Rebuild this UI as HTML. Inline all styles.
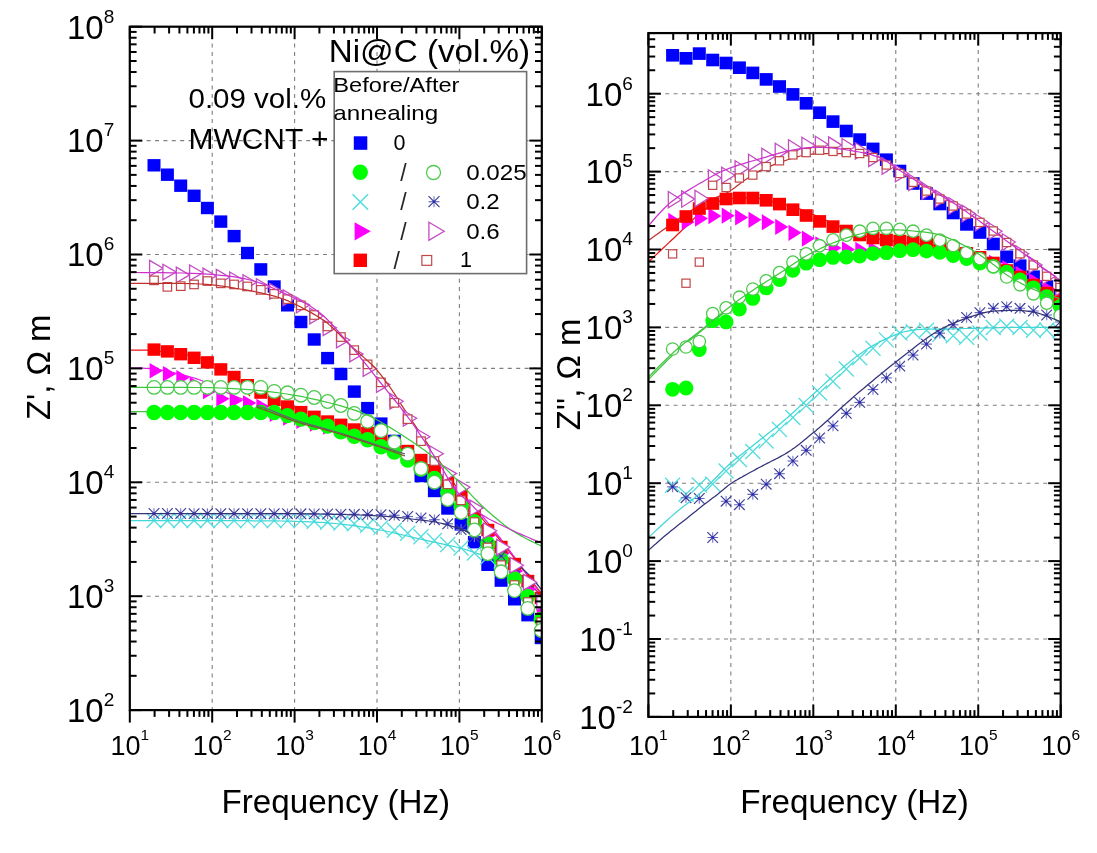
<!DOCTYPE html>
<html><head><meta charset="utf-8"><style>
html,body{margin:0;padding:0;background:#fff;overflow:hidden}
svg{display:block;will-change:transform}
</style></head><body>
<svg width="1097" height="853" viewBox="0 0 1097 853">
<rect width="1097" height="853" fill="#fff"/>
<g stroke="#7f7f7f" stroke-width="1.1" stroke-dasharray="4 4.4" fill="none"><line x1="212.2" y1="26.7" x2="212.2" y2="710.1"/><line x1="294.6" y1="26.7" x2="294.6" y2="710.1"/><line x1="377" y1="26.7" x2="377" y2="710.1"/><line x1="459.4" y1="26.7" x2="459.4" y2="710.1"/><line x1="129.8" y1="596.2" x2="541.8" y2="596.2"/><line x1="129.8" y1="482.3" x2="541.8" y2="482.3"/><line x1="129.8" y1="368.4" x2="541.8" y2="368.4"/><line x1="129.8" y1="254.5" x2="541.8" y2="254.5"/><line x1="129.8" y1="140.6" x2="541.8" y2="140.6"/></g>
<g stroke="#7f7f7f" stroke-width="1.1" stroke-dasharray="4 4.4" fill="none"><line x1="730.86" y1="33.08" x2="730.86" y2="716.9"/><line x1="813.32" y1="33.08" x2="813.32" y2="716.9"/><line x1="895.78" y1="33.08" x2="895.78" y2="716.9"/><line x1="978.24" y1="33.08" x2="978.24" y2="716.9"/><line x1="648.4" y1="639" x2="1060.7" y2="639"/><line x1="648.4" y1="561.1" x2="1060.7" y2="561.1"/><line x1="648.4" y1="483.2" x2="1060.7" y2="483.2"/><line x1="648.4" y1="405.3" x2="1060.7" y2="405.3"/><line x1="648.4" y1="327.4" x2="1060.7" y2="327.4"/><line x1="648.4" y1="249.5" x2="1060.7" y2="249.5"/><line x1="648.4" y1="171.6" x2="1060.7" y2="171.6"/><line x1="648.4" y1="93.7" x2="1060.7" y2="93.7"/></g>
<g>
<clipPath id="clipL"><rect x="129.8" y="26.7" width="411.99999999999994" height="683.4000000000001"/></clipPath>
<g clip-path="url(#clipL)">
<rect x="147.5" y="159.1" width="13" height="12.4" fill="#0000ff"/><rect x="160.9" y="168.5" width="13" height="12.4" fill="#0000ff"/><rect x="174.2" y="179.5" width="13" height="12.4" fill="#0000ff"/><rect x="187.6" y="189.6" width="13" height="12.4" fill="#0000ff"/><rect x="200.9" y="201.8" width="13" height="12.4" fill="#0000ff"/><rect x="214.3" y="215.4" width="13" height="12.4" fill="#0000ff"/><rect x="227.6" y="229.9" width="13" height="12.4" fill="#0000ff"/><rect x="241" y="246.8" width="13" height="12.4" fill="#0000ff"/><rect x="254.3" y="263.2" width="13" height="12.4" fill="#0000ff"/><rect x="267.7" y="280.3" width="13" height="12.4" fill="#0000ff"/><rect x="281" y="299.1" width="13" height="12.4" fill="#0000ff"/><rect x="294.4" y="315.8" width="13" height="12.4" fill="#0000ff"/><rect x="307.7" y="333.3" width="13" height="12.4" fill="#0000ff"/><rect x="321.1" y="351.9" width="13" height="12.4" fill="#0000ff"/><rect x="334.4" y="367.8" width="13" height="12.4" fill="#0000ff"/><rect x="347.8" y="385.4" width="13" height="12.4" fill="#0000ff"/><rect x="361.1" y="401.9" width="13" height="12.4" fill="#0000ff"/><rect x="374.5" y="417.4" width="13" height="12.4" fill="#0000ff"/><rect x="387.8" y="434.7" width="13" height="12.4" fill="#0000ff"/><rect x="401.2" y="450.3" width="13" height="12.4" fill="#0000ff"/><rect x="414.5" y="469.8" width="13" height="12.4" fill="#0000ff"/><rect x="427.9" y="484.8" width="13" height="12.4" fill="#0000ff"/><rect x="441.2" y="502.3" width="13" height="12.4" fill="#0000ff"/><rect x="454.6" y="518.2" width="13" height="12.4" fill="#0000ff"/><rect x="467.9" y="536" width="13" height="12.4" fill="#0000ff"/><rect x="481.3" y="558.6" width="13" height="12.4" fill="#0000ff"/><rect x="494.6" y="574.4" width="13" height="12.4" fill="#0000ff"/><rect x="508" y="593.1" width="13" height="12.4" fill="#0000ff"/><rect x="521.3" y="609" width="13" height="12.4" fill="#0000ff"/><rect x="534.7" y="631.8" width="13" height="12.4" fill="#0000ff"/>
<path d="M146.5 513L161.5 528M146.5 528L161.5 513" stroke="#55dddd" stroke-width="1.3" fill="none"/><path d="M159.9 513L174.9 528M159.9 528L174.9 513" stroke="#55dddd" stroke-width="1.3" fill="none"/><path d="M173.2 513L188.2 528M173.2 528L188.2 513" stroke="#55dddd" stroke-width="1.3" fill="none"/><path d="M186.6 513L201.6 528M186.6 528L201.6 513" stroke="#55dddd" stroke-width="1.3" fill="none"/><path d="M199.9 513L214.9 528M199.9 528L214.9 513" stroke="#55dddd" stroke-width="1.3" fill="none"/><path d="M213.3 513L228.3 528M213.3 528L228.3 513" stroke="#55dddd" stroke-width="1.3" fill="none"/><path d="M226.6 513.1L241.6 528.1M226.6 528.1L241.6 513.1" stroke="#55dddd" stroke-width="1.3" fill="none"/><path d="M240 513.1L255 528.1M240 528.1L255 513.1" stroke="#55dddd" stroke-width="1.3" fill="none"/><path d="M253.3 513.1L268.3 528.1M253.3 528.1L268.3 513.1" stroke="#55dddd" stroke-width="1.3" fill="none"/><path d="M266.7 513.1L281.7 528.1M266.7 528.1L281.7 513.1" stroke="#55dddd" stroke-width="1.3" fill="none"/><path d="M280 513.1L295 528.1M280 528.1L295 513.1" stroke="#55dddd" stroke-width="1.3" fill="none"/><path d="M293.4 513.1L308.4 528.1M293.4 528.1L308.4 513.1" stroke="#55dddd" stroke-width="1.3" fill="none"/><path d="M306.7 513.8L321.7 528.8M306.7 528.8L321.7 513.8" stroke="#55dddd" stroke-width="1.3" fill="none"/><path d="M320.1 514.7L335.1 529.7M320.1 529.7L335.1 514.7" stroke="#55dddd" stroke-width="1.3" fill="none"/><path d="M333.4 515.5L348.4 530.5M333.4 530.5L348.4 515.5" stroke="#55dddd" stroke-width="1.3" fill="none"/><path d="M346.8 516.3L361.8 531.3M346.8 531.3L361.8 516.3" stroke="#55dddd" stroke-width="1.3" fill="none"/><path d="M360.1 517.7L375.1 532.7M360.1 532.7L375.1 517.7" stroke="#55dddd" stroke-width="1.3" fill="none"/><path d="M373.5 519.9L388.5 534.9M373.5 534.9L388.5 519.9" stroke="#55dddd" stroke-width="1.3" fill="none"/><path d="M386.8 522.8L401.8 537.8M386.8 537.8L401.8 522.8" stroke="#55dddd" stroke-width="1.3" fill="none"/><path d="M400.2 525.7L415.2 540.7M400.2 540.7L415.2 525.7" stroke="#55dddd" stroke-width="1.3" fill="none"/><path d="M413.5 529.3L428.5 544.3M413.5 544.3L428.5 529.3" stroke="#55dddd" stroke-width="1.3" fill="none"/><path d="M426.9 533L441.9 548M426.9 548L441.9 533" stroke="#55dddd" stroke-width="1.3" fill="none"/><path d="M440.2 537L455.2 552M440.2 552L455.2 537" stroke="#55dddd" stroke-width="1.3" fill="none"/><path d="M453.6 540.5L468.6 555.5M453.6 555.5L468.6 540.5" stroke="#55dddd" stroke-width="1.3" fill="none"/><path d="M466.9 545.5L481.9 560.5M466.9 560.5L481.9 545.5" stroke="#55dddd" stroke-width="1.3" fill="none"/><path d="M480.3 549.5L495.3 564.5M480.3 564.5L495.3 549.5" stroke="#55dddd" stroke-width="1.3" fill="none"/><path d="M493.6 553.5L508.6 568.5M493.6 568.5L508.6 553.5" stroke="#55dddd" stroke-width="1.3" fill="none"/>
<path d="M130 368 L131.4 368 L133.1 368 L135.3 368 L137.6 368 L140.2 368.1 L142.8 368.2 L145.4 368.3 L148 368.5 L150.5 368.8 L153 369.1 L155.6 369.4 L158.2 369.8 L161 370.2 L163.8 370.7 L166.8 371.3 L170 372 L173.4 372.7 L176.9 373.5 L180.7 374.4 L184.5 375.3 L188.4 376.4 L192.3 377.5 L196.2 378.7 L200 380 L203.8 381.5 L207.7 383.2 L211.7 385.1 L215.6 387 L219.5 388.9 L223.2 390.8 L226.7 392.5 L230 394 L233.1 395.3 L236.2 396.6 L239.1 397.8 L241.9 398.9 L244.4 399.8 L246.6 400.7 L248.5 401.4 L250 402" stroke="#e020e0" stroke-width="1.25" fill="none" stroke-linejoin="round"/>
<path d="M130 350 L131.3 350 L132.9 350 L134.9 350 L137.1 350 L139.4 350 L141.9 350 L144.5 350.1 L147 350.2 L149.5 350.4 L152.2 350.6 L154.9 350.8 L157.7 351 L160.6 351.3 L163.6 351.7 L166.7 352 L170 352.5 L173.4 353 L177 353.4 L180.7 353.9 L184.6 354.4 L188.4 355 L192.3 355.8 L196.2 356.8 L200 358 L203.8 359.5 L207.7 361.1 L211.7 363 L215.6 365 L219.5 367.1 L223.2 369.3 L226.7 371.6 L230 374 L233.1 376.6 L236.2 379.6 L239.1 382.8 L241.9 386 L244.4 389.1 L246.6 391.9 L248.5 394.3 L250 396" stroke="#ee1111" stroke-width="1.25" fill="none" stroke-linejoin="round"/>
<path d="M130 411.5 L135.5 411.5 L142.8 411.6 L151.6 411.6 L161.2 411.6 L171.4 411.7 L181.6 411.8 L191.2 411.9 L200 412 L208.1 412.2 L216.2 412.3 L224.1 412.5 L231.9 412.7 L239.4 413 L246.6 413.3 L253.5 413.6 L260 414 L266 414.5 L271.4 414.9 L276.5 415.5 L281.2 416.1 L285.9 416.7 L290.5 417.4 L295.1 418.2 L300 419 L305 419.9 L310 420.9 L315 421.9 L320 422.9 L325 424.1 L330 425.3 L335 426.6 L340 428 L345 429.5 L350 431 L355 432.6 L360 434.3 L365 436.1 L370 438 L375 439.9 L380 442 L385.1 444.3 L390.5 446.7 L395.9 449.3 L401.2 452 L406.5 454.7 L411.4 457.3 L416 459.7 L420 462 L423.6 464.1 L426.9 466.2 L429.8 468.3 L432.5 470.2 L434.8 472 L436.9 473.6 L438.6 475 L440 476" stroke="#3ec63e" stroke-width="1.25" fill="none" stroke-linejoin="round"/>
<path d="M392 390 L393.3 392.1 L395 394.7 L396.9 397.7 L399.1 401.2 L401.6 405.1 L404.2 409.2 L407.1 413.5 L410 418 L413.2 422.7 L416.7 427.8 L420.4 433.2 L424.2 438.9 L428.2 444.7 L432.2 450.5 L436.2 456.3 L440 462 L443.8 467.7 L447.5 473.4 L451.2 479.1 L455 484.9 L458.8 490.7 L462.5 496.5 L466.2 502.3 L470 508 L473.7 513.7 L477.2 519.4 L480.7 525 L484.3 530.7 L487.9 536.3 L491.7 541.9 L495.7 547.5 L500 553 L504.9 558.8 L510.6 564.9 L516.6 571.2 L522.8 577.3 L528.7 583.1 L534 588.3 L538.5 592.7 L541.8 596" stroke="#c0302a" stroke-width="1.25" fill="none" stroke-linejoin="round"/>
<path d="M390 452 L392.2 453 L395.2 454.2 L398.6 455.6 L402.5 457.2 L406.7 459 L411.1 461.1 L415.6 463.4 L420 466 L424.5 468.8 L429.3 471.8 L434.3 475.1 L439.4 478.6 L444.6 482.3 L449.8 486.3 L454.9 490.5 L460 495 L465 499.8 L470 504.9 L474.9 510.3 L479.9 515.9 L484.9 521.8 L489.9 527.7 L494.9 533.8 L500 540 L505.4 546.7 L511.3 554.1 L517.4 562 L523.4 569.8 L529.1 577.3 L534.2 584.1 L538.6 589.8 L541.8 594" stroke="#ee1111" stroke-width="1.25" fill="none" stroke-linejoin="round"/>
<path d="M390 450 L392.2 451 L395.2 452.2 L398.6 453.6 L402.5 455.2 L406.7 457.1 L411.1 459.2 L415.6 461.5 L420 464 L424.5 466.7 L429.3 469.6 L434.3 472.7 L439.4 476 L444.6 479.6 L449.8 483.4 L454.9 487.5 L460 492 L465 496.8 L470 502 L474.9 507.4 L479.9 513.2 L484.9 519.1 L489.9 525.3 L494.9 531.6 L500 538 L505.4 545 L511.3 552.9 L517.4 561.2 L523.4 569.6 L529.1 577.6 L534.2 584.9 L538.6 591 L541.8 595.5" stroke="#e020e0" stroke-width="1.25" fill="none" stroke-linejoin="round"/>
<path d="M130 520.5 L135.5 520.5 L142.8 520.5 L151.6 520.5 L161.2 520.5 L171.4 520.6 L181.6 520.6 L191.2 520.6 L200 520.6 L208.1 520.6 L216.2 520.6 L224.1 520.6 L231.9 520.7 L239.4 520.7 L246.6 520.7 L253.5 520.8 L260 520.8 L266 520.9 L271.4 520.9 L276.5 520.9 L281.2 521 L285.9 521.1 L290.5 521.2 L295.1 521.3 L300 521.5 L305 521.7 L310 521.9 L315 522.2 L320 522.4 L325 522.7 L330 523.1 L335 523.5 L340 524 L345 524.6 L350 525.2 L355 525.9 L360 526.6 L365 527.4 L370 528.2 L375 529.1 L380 530 L385 531 L390 532 L395 533.2 L400 534.3 L405 535.5 L410 536.7 L415 537.9 L420 539 L425.1 540.1 L430.4 541.3 L435.8 542.5 L441.1 543.6 L446.3 544.8 L451.3 545.9 L455.9 547 L460 548 L463.6 549 L466.7 549.9 L469.5 550.8 L472.1 551.6 L474.5 552.5 L476.9 553.3 L479.3 554.1 L482 555 L485 555.9 L488.2 556.9 L491.6 557.9 L494.9 558.9 L498 559.9 L500.8 560.7 L503.2 561.5 L505 562" stroke="#3fd7d7" stroke-width="1.25" fill="none" stroke-linejoin="round"/>
<path d="M460 528.2 L460.8 528.6 L461.8 529.1 L463 529.8 L464.4 530.5 L465.8 531.2 L467.3 532 L468.7 532.8 L470 533.5 L471.2 534.2 L472.3 534.8 L473.4 535.3 L474.5 535.9 L475.7 536.6 L477 537.4 L478.5 538.2 L480.2 539.3 L482.2 540.5 L484.3 541.8 L486.7 543.3 L489.1 544.8 L491.7 546.4 L494.4 548.2 L497.2 550 L500 552 L503 554.1 L506.2 556.4 L509.6 558.9 L513.1 561.4 L516.5 564 L519.8 566.6 L522.9 569.2 L525.7 571.6 L528.3 574.1 L530.8 576.7 L533.1 579.4 L535.4 582 L537.4 584.5 L539.1 586.7 L540.6 588.6 L541.8 590" stroke="#33337a" stroke-width="1.25" fill="none" stroke-linejoin="round"/>
<path d="M149.6 362.9L162.9 370.7L149.6 378.5Z" fill="#ff00ff"/><path d="M162.9 366.1L176.2 373.9L162.9 381.7Z" fill="#ff00ff"/><path d="M176.3 369.9L189.6 377.7L176.3 385.5Z" fill="#ff00ff"/><path d="M189.6 376.7L202.9 384.5L189.6 392.3Z" fill="#ff00ff"/><path d="M203 383.7L216.3 391.5L203 399.3Z" fill="#ff00ff"/><path d="M216.3 390.9L229.6 398.7L216.3 406.5Z" fill="#ff00ff"/><path d="M229.7 392.7L243 400.5L229.7 408.3Z" fill="#ff00ff"/><path d="M243 395.2L256.3 403L243 410.8Z" fill="#ff00ff"/><path d="M256.4 398.7L269.7 406.5L256.4 414.3Z" fill="#ff00ff"/><path d="M269.7 406.5L283 414.3L269.7 422.1Z" fill="#ff00ff"/><path d="M283.1 410.2L296.4 418L283.1 425.8Z" fill="#ff00ff"/><path d="M296.4 413.4L309.7 421.2L296.4 429Z" fill="#ff00ff"/><path d="M309.8 416.2L323.1 424L309.8 431.8Z" fill="#ff00ff"/><path d="M323.1 419.2L336.4 427L323.1 434.8Z" fill="#ff00ff"/><path d="M336.5 422.2L349.8 430L336.5 437.8Z" fill="#ff00ff"/><path d="M349.8 426.2L363.1 434L349.8 441.8Z" fill="#ff00ff"/><path d="M363.2 430.2L376.5 438L363.2 445.8Z" fill="#ff00ff"/><path d="M376.5 435.2L389.8 443L376.5 450.8Z" fill="#ff00ff"/><path d="M389.9 441.2L403.2 449L389.9 456.8Z" fill="#ff00ff"/><path d="M403.3 448.2L416.6 456L403.3 463.8Z" fill="#ff00ff"/><path d="M416.6 457.2L429.9 465L416.6 472.8Z" fill="#ff00ff"/><path d="M430 467.2L443.3 475L430 482.8Z" fill="#ff00ff"/><path d="M443.3 480.2L456.6 488L443.3 495.8Z" fill="#ff00ff"/><path d="M456.7 494.2L470 502L456.7 509.8Z" fill="#ff00ff"/><path d="M470 510.2L483.3 518L470 525.8Z" fill="#ff00ff"/><path d="M483.4 527.2L496.7 535L483.4 542.8Z" fill="#ff00ff"/><path d="M496.7 545.2L510 553L496.7 560.8Z" fill="#ff00ff"/><path d="M510.1 563.2L523.4 571L510.1 578.8Z" fill="#ff00ff"/><path d="M523.4 581.2L536.7 589L523.4 596.8Z" fill="#ff00ff"/><path d="M536.8 599.2L550.1 607L536.8 614.8Z" fill="#ff00ff"/>
<rect x="147.5" y="343.4" width="13" height="12.4" fill="#ff0000"/><rect x="160.9" y="345.2" width="13" height="12.4" fill="#ff0000"/><rect x="174.2" y="348" width="13" height="12.4" fill="#ff0000"/><rect x="187.6" y="351.6" width="13" height="12.4" fill="#ff0000"/><rect x="200.9" y="356.2" width="13" height="12.4" fill="#ff0000"/><rect x="214.3" y="363.2" width="13" height="12.4" fill="#ff0000"/><rect x="227.6" y="370.8" width="13" height="12.4" fill="#ff0000"/><rect x="241" y="379" width="13" height="12.4" fill="#ff0000"/><rect x="254.3" y="386.4" width="13" height="12.4" fill="#ff0000"/><rect x="267.7" y="393.8" width="13" height="12.4" fill="#ff0000"/><rect x="281" y="400.3" width="13" height="12.4" fill="#ff0000"/><rect x="294.4" y="405.9" width="13" height="12.4" fill="#ff0000"/><rect x="307.7" y="410.6" width="13" height="12.4" fill="#ff0000"/><rect x="321.1" y="415.3" width="13" height="12.4" fill="#ff0000"/><rect x="334.4" y="418.6" width="13" height="12.4" fill="#ff0000"/><rect x="347.8" y="423.3" width="13" height="12.4" fill="#ff0000"/><rect x="361.1" y="426.8" width="13" height="12.4" fill="#ff0000"/><rect x="374.5" y="431.8" width="13" height="12.4" fill="#ff0000"/><rect x="387.8" y="437.8" width="13" height="12.4" fill="#ff0000"/><rect x="401.2" y="444.8" width="13" height="12.4" fill="#ff0000"/><rect x="414.5" y="453.8" width="13" height="12.4" fill="#ff0000"/><rect x="427.9" y="464.1" width="13" height="12.4" fill="#ff0000"/><rect x="441.2" y="475.8" width="13" height="12.4" fill="#ff0000"/><rect x="454.6" y="488.8" width="13" height="12.4" fill="#ff0000"/><rect x="467.9" y="505.8" width="13" height="12.4" fill="#ff0000"/><rect x="481.3" y="523.8" width="13" height="12.4" fill="#ff0000"/><rect x="494.6" y="540.8" width="13" height="12.4" fill="#ff0000"/><rect x="508" y="557.8" width="13" height="12.4" fill="#ff0000"/><rect x="521.3" y="574.8" width="13" height="12.4" fill="#ff0000"/><rect x="534.7" y="591.8" width="13" height="12.4" fill="#ff0000"/>
<circle cx="154" cy="412.5" r="7.7" fill="#00ff00"/><circle cx="167.4" cy="412.5" r="7.7" fill="#00ff00"/><circle cx="180.7" cy="412.5" r="7.7" fill="#00ff00"/><circle cx="194.1" cy="412.5" r="7.7" fill="#00ff00"/><circle cx="207.4" cy="412.5" r="7.7" fill="#00ff00"/><circle cx="220.8" cy="412.5" r="7.7" fill="#00ff00"/><circle cx="234.1" cy="412.5" r="7.7" fill="#00ff00"/><circle cx="247.5" cy="412.5" r="7.7" fill="#00ff00"/><circle cx="260.8" cy="412.5" r="7.7" fill="#00ff00"/><circle cx="274.2" cy="412.5" r="7.7" fill="#00ff00"/><circle cx="287.5" cy="415.6" r="7.7" fill="#00ff00"/><circle cx="300.9" cy="419.1" r="7.7" fill="#00ff00"/><circle cx="314.2" cy="422.6" r="7.7" fill="#00ff00"/><circle cx="327.6" cy="426.1" r="7.7" fill="#00ff00"/><circle cx="340.9" cy="431.9" r="7.7" fill="#00ff00"/><circle cx="354.3" cy="436.3" r="7.7" fill="#00ff00"/><circle cx="367.6" cy="439.8" r="7.7" fill="#00ff00"/><circle cx="381" cy="446.8" r="7.7" fill="#00ff00"/><circle cx="394.3" cy="452.1" r="7.7" fill="#00ff00"/><circle cx="407.7" cy="460" r="7.7" fill="#00ff00"/><circle cx="421" cy="469" r="7.7" fill="#00ff00"/><circle cx="434.4" cy="478.5" r="7.7" fill="#00ff00"/><circle cx="447.7" cy="492.5" r="7.7" fill="#00ff00"/><circle cx="461.1" cy="506.6" r="7.7" fill="#00ff00"/><circle cx="474.4" cy="521.8" r="7.7" fill="#00ff00"/><circle cx="487.8" cy="544" r="7.7" fill="#00ff00"/><circle cx="501.1" cy="559.8" r="7.7" fill="#00ff00"/><circle cx="514.5" cy="579" r="7.7" fill="#00ff00"/><circle cx="527.8" cy="596.5" r="7.7" fill="#00ff00"/><circle cx="541.2" cy="619.4" r="7.7" fill="#00ff00"/>
<path d="M148.7 513.5L159.3 513.5" stroke="#6464bc" stroke-width="1.14" fill="none"/><path d="M154 508.2L154 518.8" stroke="#7a7ac8" stroke-width="1.14" fill="none"/><path d="M148.7 508.2L159.3 518.8M148.7 518.8L159.3 508.2" stroke="#3e3e9c" stroke-width="1.2" fill="none"/><circle cx="154" cy="513.5" r="1.3" fill="#2a2ab8"/><path d="M162.1 513.5L172.7 513.5" stroke="#6464bc" stroke-width="1.14" fill="none"/><path d="M167.4 508.2L167.4 518.8" stroke="#7a7ac8" stroke-width="1.14" fill="none"/><path d="M162.1 508.2L172.7 518.8M162.1 518.8L172.7 508.2" stroke="#3e3e9c" stroke-width="1.2" fill="none"/><circle cx="167.4" cy="513.5" r="1.3" fill="#2a2ab8"/><path d="M175.4 513.5L186 513.5" stroke="#6464bc" stroke-width="1.14" fill="none"/><path d="M180.7 508.2L180.7 518.8" stroke="#7a7ac8" stroke-width="1.14" fill="none"/><path d="M175.4 508.2L186 518.8M175.4 518.8L186 508.2" stroke="#3e3e9c" stroke-width="1.2" fill="none"/><circle cx="180.7" cy="513.5" r="1.3" fill="#2a2ab8"/><path d="M188.8 513.6L199.4 513.6" stroke="#6464bc" stroke-width="1.14" fill="none"/><path d="M194.1 508.3L194.1 518.9" stroke="#7a7ac8" stroke-width="1.14" fill="none"/><path d="M188.8 508.3L199.4 518.9M188.8 518.9L199.4 508.3" stroke="#3e3e9c" stroke-width="1.2" fill="none"/><circle cx="194.1" cy="513.6" r="1.3" fill="#2a2ab8"/><path d="M202.1 513.6L212.7 513.6" stroke="#6464bc" stroke-width="1.14" fill="none"/><path d="M207.4 508.3L207.4 518.9" stroke="#7a7ac8" stroke-width="1.14" fill="none"/><path d="M202.1 508.3L212.7 518.9M202.1 518.9L212.7 508.3" stroke="#3e3e9c" stroke-width="1.2" fill="none"/><circle cx="207.4" cy="513.6" r="1.3" fill="#2a2ab8"/><path d="M215.5 513.6L226.1 513.6" stroke="#6464bc" stroke-width="1.14" fill="none"/><path d="M220.8 508.3L220.8 518.9" stroke="#7a7ac8" stroke-width="1.14" fill="none"/><path d="M215.5 508.3L226.1 518.9M215.5 518.9L226.1 508.3" stroke="#3e3e9c" stroke-width="1.2" fill="none"/><circle cx="220.8" cy="513.6" r="1.3" fill="#2a2ab8"/><path d="M228.8 513.6L239.4 513.6" stroke="#6464bc" stroke-width="1.14" fill="none"/><path d="M234.1 508.3L234.1 518.9" stroke="#7a7ac8" stroke-width="1.14" fill="none"/><path d="M228.8 508.3L239.4 518.9M228.8 518.9L239.4 508.3" stroke="#3e3e9c" stroke-width="1.2" fill="none"/><circle cx="234.1" cy="513.6" r="1.3" fill="#2a2ab8"/><path d="M242.2 513.6L252.8 513.6" stroke="#6464bc" stroke-width="1.14" fill="none"/><path d="M247.5 508.3L247.5 518.9" stroke="#7a7ac8" stroke-width="1.14" fill="none"/><path d="M242.2 508.3L252.8 518.9M242.2 518.9L252.8 508.3" stroke="#3e3e9c" stroke-width="1.2" fill="none"/><circle cx="247.5" cy="513.6" r="1.3" fill="#2a2ab8"/><path d="M255.5 513.7L266.1 513.7" stroke="#6464bc" stroke-width="1.14" fill="none"/><path d="M260.8 508.4L260.8 519" stroke="#7a7ac8" stroke-width="1.14" fill="none"/><path d="M255.5 508.4L266.1 519M255.5 519L266.1 508.4" stroke="#3e3e9c" stroke-width="1.2" fill="none"/><circle cx="260.8" cy="513.7" r="1.3" fill="#2a2ab8"/><path d="M268.9 513.7L279.5 513.7" stroke="#6464bc" stroke-width="1.14" fill="none"/><path d="M274.2 508.4L274.2 519" stroke="#7a7ac8" stroke-width="1.14" fill="none"/><path d="M268.9 508.4L279.5 519M268.9 519L279.5 508.4" stroke="#3e3e9c" stroke-width="1.2" fill="none"/><circle cx="274.2" cy="513.7" r="1.3" fill="#2a2ab8"/><path d="M282.2 513.7L292.8 513.7" stroke="#6464bc" stroke-width="1.14" fill="none"/><path d="M287.5 508.4L287.5 519" stroke="#7a7ac8" stroke-width="1.14" fill="none"/><path d="M282.2 508.4L292.8 519M282.2 519L292.8 508.4" stroke="#3e3e9c" stroke-width="1.2" fill="none"/><circle cx="287.5" cy="513.7" r="1.3" fill="#2a2ab8"/><path d="M295.6 513.8L306.2 513.8" stroke="#6464bc" stroke-width="1.14" fill="none"/><path d="M300.9 508.5L300.9 519.1" stroke="#7a7ac8" stroke-width="1.14" fill="none"/><path d="M295.6 508.5L306.2 519.1M295.6 519.1L306.2 508.5" stroke="#3e3e9c" stroke-width="1.2" fill="none"/><circle cx="300.9" cy="513.8" r="1.3" fill="#2a2ab8"/><path d="M308.9 513.9L319.5 513.9" stroke="#6464bc" stroke-width="1.14" fill="none"/><path d="M314.2 508.6L314.2 519.2" stroke="#7a7ac8" stroke-width="1.14" fill="none"/><path d="M308.9 508.6L319.5 519.2M308.9 519.2L319.5 508.6" stroke="#3e3e9c" stroke-width="1.2" fill="none"/><circle cx="314.2" cy="513.9" r="1.3" fill="#2a2ab8"/><path d="M322.3 514L332.9 514" stroke="#6464bc" stroke-width="1.14" fill="none"/><path d="M327.6 508.7L327.6 519.3" stroke="#7a7ac8" stroke-width="1.14" fill="none"/><path d="M322.3 508.7L332.9 519.3M322.3 519.3L332.9 508.7" stroke="#3e3e9c" stroke-width="1.2" fill="none"/><circle cx="327.6" cy="514" r="1.3" fill="#2a2ab8"/><path d="M335.6 514.2L346.2 514.2" stroke="#6464bc" stroke-width="1.14" fill="none"/><path d="M340.9 508.9L340.9 519.5" stroke="#7a7ac8" stroke-width="1.14" fill="none"/><path d="M335.6 508.9L346.2 519.5M335.6 519.5L346.2 508.9" stroke="#3e3e9c" stroke-width="1.2" fill="none"/><circle cx="340.9" cy="514.2" r="1.3" fill="#2a2ab8"/><path d="M349 514.3L359.6 514.3" stroke="#6464bc" stroke-width="1.14" fill="none"/><path d="M354.3 509L354.3 519.6" stroke="#7a7ac8" stroke-width="1.14" fill="none"/><path d="M349 509L359.6 519.6M349 519.6L359.6 509" stroke="#3e3e9c" stroke-width="1.2" fill="none"/><circle cx="354.3" cy="514.3" r="1.3" fill="#2a2ab8"/><path d="M362.3 514.5L372.9 514.5" stroke="#6464bc" stroke-width="1.14" fill="none"/><path d="M367.6 509.2L367.6 519.8" stroke="#7a7ac8" stroke-width="1.14" fill="none"/><path d="M362.3 509.2L372.9 519.8M362.3 519.8L372.9 509.2" stroke="#3e3e9c" stroke-width="1.2" fill="none"/><circle cx="367.6" cy="514.5" r="1.3" fill="#2a2ab8"/><path d="M375.7 514.7L386.3 514.7" stroke="#6464bc" stroke-width="1.14" fill="none"/><path d="M381 509.4L381 520" stroke="#7a7ac8" stroke-width="1.14" fill="none"/><path d="M375.7 509.4L386.3 520M375.7 520L386.3 509.4" stroke="#3e3e9c" stroke-width="1.2" fill="none"/><circle cx="381" cy="514.7" r="1.3" fill="#2a2ab8"/><path d="M389 515.3L399.6 515.3" stroke="#6464bc" stroke-width="1.14" fill="none"/><path d="M394.3 510L394.3 520.6" stroke="#7a7ac8" stroke-width="1.14" fill="none"/><path d="M389 510L399.6 520.6M389 520.6L399.6 510" stroke="#3e3e9c" stroke-width="1.2" fill="none"/><circle cx="394.3" cy="515.3" r="1.3" fill="#2a2ab8"/><path d="M402.4 516.5L413 516.5" stroke="#6464bc" stroke-width="1.14" fill="none"/><path d="M407.7 511.2L407.7 521.8" stroke="#7a7ac8" stroke-width="1.14" fill="none"/><path d="M402.4 511.2L413 521.8M402.4 521.8L413 511.2" stroke="#3e3e9c" stroke-width="1.2" fill="none"/><circle cx="407.7" cy="516.5" r="1.3" fill="#2a2ab8"/><path d="M415.7 517.9L426.3 517.9" stroke="#6464bc" stroke-width="1.14" fill="none"/><path d="M421 512.6L421 523.2" stroke="#7a7ac8" stroke-width="1.14" fill="none"/><path d="M415.7 512.6L426.3 523.2M415.7 523.2L426.3 512.6" stroke="#3e3e9c" stroke-width="1.2" fill="none"/><circle cx="421" cy="517.9" r="1.3" fill="#2a2ab8"/><path d="M429.1 519.7L439.7 519.7" stroke="#6464bc" stroke-width="1.14" fill="none"/><path d="M434.4 514.4L434.4 525" stroke="#7a7ac8" stroke-width="1.14" fill="none"/><path d="M429.1 514.4L439.7 525M429.1 525L439.7 514.4" stroke="#3e3e9c" stroke-width="1.2" fill="none"/><circle cx="434.4" cy="519.7" r="1.3" fill="#2a2ab8"/><path d="M442.4 523.8L453 523.8" stroke="#6464bc" stroke-width="1.14" fill="none"/><path d="M447.7 518.5L447.7 529.1" stroke="#7a7ac8" stroke-width="1.14" fill="none"/><path d="M442.4 518.5L453 529.1M442.4 529.1L453 518.5" stroke="#3e3e9c" stroke-width="1.2" fill="none"/><circle cx="447.7" cy="523.8" r="1.3" fill="#2a2ab8"/><path d="M455.8 529.6L466.4 529.6" stroke="#6464bc" stroke-width="1.14" fill="none"/><path d="M461.1 524.3L461.1 534.9" stroke="#7a7ac8" stroke-width="1.14" fill="none"/><path d="M455.8 524.3L466.4 534.9M455.8 534.9L466.4 524.3" stroke="#3e3e9c" stroke-width="1.2" fill="none"/><circle cx="461.1" cy="529.6" r="1.3" fill="#2a2ab8"/><path d="M469.1 537L479.7 537" stroke="#6464bc" stroke-width="1.14" fill="none"/><path d="M474.4 531.7L474.4 542.3" stroke="#7a7ac8" stroke-width="1.14" fill="none"/><path d="M469.1 531.7L479.7 542.3M469.1 542.3L479.7 531.7" stroke="#3e3e9c" stroke-width="1.2" fill="none"/><circle cx="474.4" cy="537" r="1.3" fill="#2a2ab8"/><path d="M482.5 545.5L493.1 545.5" stroke="#6464bc" stroke-width="1.14" fill="none"/><path d="M487.8 540.2L487.8 550.8" stroke="#7a7ac8" stroke-width="1.14" fill="none"/><path d="M482.5 540.2L493.1 550.8M482.5 550.8L493.1 540.2" stroke="#3e3e9c" stroke-width="1.2" fill="none"/><circle cx="487.8" cy="545.5" r="1.3" fill="#2a2ab8"/><path d="M495.8 556L506.4 556" stroke="#6464bc" stroke-width="1.14" fill="none"/><path d="M501.1 550.7L501.1 561.3" stroke="#7a7ac8" stroke-width="1.14" fill="none"/><path d="M495.8 550.7L506.4 561.3M495.8 561.3L506.4 550.7" stroke="#3e3e9c" stroke-width="1.2" fill="none"/><circle cx="501.1" cy="556" r="1.3" fill="#2a2ab8"/><path d="M509.2 567L519.8 567" stroke="#6464bc" stroke-width="1.14" fill="none"/><path d="M514.5 561.7L514.5 572.3" stroke="#7a7ac8" stroke-width="1.14" fill="none"/><path d="M509.2 561.7L519.8 572.3M509.2 572.3L519.8 561.7" stroke="#3e3e9c" stroke-width="1.2" fill="none"/><circle cx="514.5" cy="567" r="1.3" fill="#2a2ab8"/><path d="M522.5 582L533.1 582" stroke="#6464bc" stroke-width="1.14" fill="none"/><path d="M527.8 576.7L527.8 587.3" stroke="#7a7ac8" stroke-width="1.14" fill="none"/><path d="M522.5 576.7L533.1 587.3M522.5 587.3L533.1 576.7" stroke="#3e3e9c" stroke-width="1.2" fill="none"/><circle cx="527.8" cy="582" r="1.3" fill="#2a2ab8"/><path d="M535.9 598L546.5 598" stroke="#6464bc" stroke-width="1.14" fill="none"/><path d="M541.2 592.7L541.2 603.3" stroke="#7a7ac8" stroke-width="1.14" fill="none"/><path d="M535.9 592.7L546.5 603.3M535.9 603.3L546.5 592.7" stroke="#3e3e9c" stroke-width="1.2" fill="none"/><circle cx="541.2" cy="598" r="1.3" fill="#2a2ab8"/>
<path d="M149.6 260.4L162.9 268.2L149.6 276Z" fill="#fff" stroke="#c24ec2" stroke-width="1.3" stroke-linejoin="miter"/><path d="M162.9 264.3L176.2 272.1L162.9 279.9Z" fill="#fff" stroke="#c24ec2" stroke-width="1.3" stroke-linejoin="miter"/><path d="M176.3 267.1L189.6 274.9L176.3 282.7Z" fill="#fff" stroke="#c24ec2" stroke-width="1.3" stroke-linejoin="miter"/><path d="M189.6 265L202.9 272.8L189.6 280.6Z" fill="#fff" stroke="#c24ec2" stroke-width="1.3" stroke-linejoin="miter"/><path d="M203 268.1L216.3 275.9L203 283.7Z" fill="#fff" stroke="#c24ec2" stroke-width="1.3" stroke-linejoin="miter"/><path d="M216.3 269.4L229.6 277.2L216.3 285Z" fill="#fff" stroke="#c24ec2" stroke-width="1.3" stroke-linejoin="miter"/><path d="M229.7 272L243 279.8L229.7 287.6Z" fill="#fff" stroke="#c24ec2" stroke-width="1.3" stroke-linejoin="miter"/><path d="M243 274.7L256.3 282.5L243 290.3Z" fill="#fff" stroke="#c24ec2" stroke-width="1.3" stroke-linejoin="miter"/><path d="M256.4 278.7L269.7 286.5L256.4 294.3Z" fill="#fff" stroke="#c24ec2" stroke-width="1.3" stroke-linejoin="miter"/><path d="M269.7 283.6L283 291.4L269.7 299.2Z" fill="#fff" stroke="#c24ec2" stroke-width="1.3" stroke-linejoin="miter"/><path d="M283.1 289.9L296.4 297.7L283.1 305.5Z" fill="#fff" stroke="#c24ec2" stroke-width="1.3" stroke-linejoin="miter"/><path d="M296.4 297.2L309.7 305L296.4 312.8Z" fill="#fff" stroke="#c24ec2" stroke-width="1.3" stroke-linejoin="miter"/><path d="M309.8 308.2L323.1 316L309.8 323.8Z" fill="#fff" stroke="#c24ec2" stroke-width="1.3" stroke-linejoin="miter"/><path d="M323.1 320L336.4 327.8L323.1 335.6Z" fill="#fff" stroke="#c24ec2" stroke-width="1.3" stroke-linejoin="miter"/><path d="M336.5 332.2L349.8 340L336.5 347.8Z" fill="#fff" stroke="#c24ec2" stroke-width="1.3" stroke-linejoin="miter"/><path d="M349.8 346.2L363.1 354L349.8 361.8Z" fill="#fff" stroke="#c24ec2" stroke-width="1.3" stroke-linejoin="miter"/><path d="M363.2 360.7L376.5 368.5L363.2 376.3Z" fill="#fff" stroke="#c24ec2" stroke-width="1.3" stroke-linejoin="miter"/><path d="M376.5 376.8L389.8 384.6L376.5 392.4Z" fill="#fff" stroke="#c24ec2" stroke-width="1.3" stroke-linejoin="miter"/><path d="M389.9 393.5L403.2 401.3L389.9 409.1Z" fill="#fff" stroke="#c24ec2" stroke-width="1.3" stroke-linejoin="miter"/><path d="M403.3 410.5L416.6 418.3L403.3 426.1Z" fill="#fff" stroke="#c24ec2" stroke-width="1.3" stroke-linejoin="miter"/><path d="M416.6 429L429.9 436.8L416.6 444.6Z" fill="#fff" stroke="#c24ec2" stroke-width="1.3" stroke-linejoin="miter"/><path d="M430 446L443.3 453.8L430 461.6Z" fill="#fff" stroke="#c24ec2" stroke-width="1.3" stroke-linejoin="miter"/><path d="M443.3 465.8L456.6 473.6L443.3 481.4Z" fill="#fff" stroke="#c24ec2" stroke-width="1.3" stroke-linejoin="miter"/><path d="M456.7 479.4L470 487.2L456.7 495Z" fill="#fff" stroke="#c24ec2" stroke-width="1.3" stroke-linejoin="miter"/><path d="M470 500.1L483.3 507.9L470 515.7Z" fill="#fff" stroke="#c24ec2" stroke-width="1.3" stroke-linejoin="miter"/><path d="M483.4 523L496.7 530.8L483.4 538.6Z" fill="#fff" stroke="#c24ec2" stroke-width="1.3" stroke-linejoin="miter"/><path d="M496.7 539.4L510 547.2L496.7 555Z" fill="#fff" stroke="#c24ec2" stroke-width="1.3" stroke-linejoin="miter"/><path d="M510.1 557.5L523.4 565.3L510.1 573.1Z" fill="#fff" stroke="#c24ec2" stroke-width="1.3" stroke-linejoin="miter"/><path d="M523.4 574.4L536.7 582.2L523.4 590Z" fill="#fff" stroke="#c24ec2" stroke-width="1.3" stroke-linejoin="miter"/><path d="M536.8 594.2L550.1 602L536.8 609.8Z" fill="#fff" stroke="#c24ec2" stroke-width="1.3" stroke-linejoin="miter"/>
<rect x="149.8" y="276.1" width="8.5" height="8.5" fill="#fff" stroke="#c04848" stroke-width="1.2"/><rect x="163.1" y="282.6" width="8.5" height="8.5" fill="#fff" stroke="#c04848" stroke-width="1.2"/><rect x="176.5" y="281.9" width="8.5" height="8.5" fill="#fff" stroke="#c04848" stroke-width="1.2"/><rect x="189.8" y="280.2" width="8.5" height="8.5" fill="#fff" stroke="#c04848" stroke-width="1.2"/><rect x="203.2" y="276.8" width="8.5" height="8.5" fill="#fff" stroke="#c04848" stroke-width="1.2"/><rect x="216.5" y="279.1" width="8.5" height="8.5" fill="#fff" stroke="#c04848" stroke-width="1.2"/><rect x="229.9" y="280.2" width="8.5" height="8.5" fill="#fff" stroke="#c04848" stroke-width="1.2"/><rect x="243.2" y="282.2" width="8.5" height="8.5" fill="#fff" stroke="#c04848" stroke-width="1.2"/><rect x="256.6" y="285.6" width="8.5" height="8.5" fill="#fff" stroke="#c04848" stroke-width="1.2"/><rect x="269.9" y="289.6" width="8.5" height="8.5" fill="#fff" stroke="#c04848" stroke-width="1.2"/><rect x="283.3" y="294.9" width="8.5" height="8.5" fill="#fff" stroke="#c04848" stroke-width="1.2"/><rect x="296.6" y="301.1" width="8.5" height="8.5" fill="#fff" stroke="#c04848" stroke-width="1.2"/><rect x="310" y="310.8" width="8.5" height="8.5" fill="#fff" stroke="#c04848" stroke-width="1.2"/><rect x="323.3" y="322.2" width="8.5" height="8.5" fill="#fff" stroke="#c04848" stroke-width="1.2"/><rect x="336.7" y="332.8" width="8.5" height="8.5" fill="#fff" stroke="#c04848" stroke-width="1.2"/><rect x="350" y="345.9" width="8.5" height="8.5" fill="#fff" stroke="#c04848" stroke-width="1.2"/><rect x="363.4" y="360.1" width="8.5" height="8.5" fill="#fff" stroke="#c04848" stroke-width="1.2"/><rect x="376.7" y="378.1" width="8.5" height="8.5" fill="#fff" stroke="#c04848" stroke-width="1.2"/><rect x="390.1" y="398.6" width="8.5" height="8.5" fill="#fff" stroke="#c04848" stroke-width="1.2"/><rect x="403.4" y="414.9" width="8.5" height="8.5" fill="#fff" stroke="#c04848" stroke-width="1.2"/><rect x="416.8" y="436.9" width="8.5" height="8.5" fill="#fff" stroke="#c04848" stroke-width="1.2"/><rect x="430.1" y="456.8" width="8.5" height="8.5" fill="#fff" stroke="#c04848" stroke-width="1.2"/><rect x="443.5" y="480.1" width="8.5" height="8.5" fill="#fff" stroke="#c04848" stroke-width="1.2"/><rect x="456.8" y="496.1" width="8.5" height="8.5" fill="#fff" stroke="#c04848" stroke-width="1.2"/><rect x="470.2" y="517.8" width="8.5" height="8.5" fill="#fff" stroke="#c04848" stroke-width="1.2"/><rect x="483.5" y="543.2" width="8.5" height="8.5" fill="#fff" stroke="#c04848" stroke-width="1.2"/><rect x="496.9" y="560.9" width="8.5" height="8.5" fill="#fff" stroke="#c04848" stroke-width="1.2"/><rect x="510.2" y="580.8" width="8.5" height="8.5" fill="#fff" stroke="#c04848" stroke-width="1.2"/><rect x="523.6" y="597.8" width="8.5" height="8.5" fill="#fff" stroke="#c04848" stroke-width="1.2"/><rect x="536.9" y="617.8" width="8.5" height="8.5" fill="#fff" stroke="#c04848" stroke-width="1.2"/>
<circle cx="154" cy="387.4" r="6.8" fill="#fff" stroke="#4ec94e" stroke-width="1.3"/><circle cx="167.4" cy="387.4" r="6.8" fill="#fff" stroke="#4ec94e" stroke-width="1.3"/><circle cx="180.7" cy="387.4" r="6.8" fill="#fff" stroke="#4ec94e" stroke-width="1.3"/><circle cx="194.1" cy="387.4" r="6.8" fill="#fff" stroke="#4ec94e" stroke-width="1.3"/><circle cx="207.4" cy="387.4" r="6.8" fill="#fff" stroke="#4ec94e" stroke-width="1.3"/><circle cx="220.8" cy="387.4" r="6.8" fill="#fff" stroke="#4ec94e" stroke-width="1.3"/><circle cx="234.1" cy="387.4" r="6.8" fill="#fff" stroke="#4ec94e" stroke-width="1.3"/><circle cx="247.5" cy="387.4" r="6.8" fill="#fff" stroke="#4ec94e" stroke-width="1.3"/><circle cx="260.8" cy="387.4" r="6.8" fill="#fff" stroke="#4ec94e" stroke-width="1.3"/><circle cx="274.2" cy="391.4" r="6.8" fill="#fff" stroke="#4ec94e" stroke-width="1.3"/><circle cx="287.5" cy="392.8" r="6.8" fill="#fff" stroke="#4ec94e" stroke-width="1.3"/><circle cx="300.9" cy="395.2" r="6.8" fill="#fff" stroke="#4ec94e" stroke-width="1.3"/><circle cx="314.2" cy="397.5" r="6.8" fill="#fff" stroke="#4ec94e" stroke-width="1.3"/><circle cx="327.6" cy="401.5" r="6.8" fill="#fff" stroke="#4ec94e" stroke-width="1.3"/><circle cx="340.9" cy="405.5" r="6.8" fill="#fff" stroke="#4ec94e" stroke-width="1.3"/><circle cx="354.3" cy="413.4" r="6.8" fill="#fff" stroke="#4ec94e" stroke-width="1.3"/><circle cx="367.6" cy="421.3" r="6.8" fill="#fff" stroke="#4ec94e" stroke-width="1.3"/><circle cx="381" cy="430.6" r="6.8" fill="#fff" stroke="#4ec94e" stroke-width="1.3"/><circle cx="394.3" cy="442.2" r="6.8" fill="#fff" stroke="#4ec94e" stroke-width="1.3"/><circle cx="407.7" cy="454.2" r="6.8" fill="#fff" stroke="#4ec94e" stroke-width="1.3"/><circle cx="421" cy="468.6" r="6.8" fill="#fff" stroke="#4ec94e" stroke-width="1.3"/><circle cx="434.4" cy="482.2" r="6.8" fill="#fff" stroke="#4ec94e" stroke-width="1.3"/><circle cx="447.7" cy="499.5" r="6.8" fill="#fff" stroke="#4ec94e" stroke-width="1.3"/><circle cx="461.1" cy="512.5" r="6.8" fill="#fff" stroke="#4ec94e" stroke-width="1.3"/><circle cx="474.4" cy="530" r="6.8" fill="#fff" stroke="#4ec94e" stroke-width="1.3"/><circle cx="487.8" cy="553.7" r="6.8" fill="#fff" stroke="#4ec94e" stroke-width="1.3"/><circle cx="501.1" cy="571.8" r="6.8" fill="#fff" stroke="#4ec94e" stroke-width="1.3"/><circle cx="514.5" cy="590.6" r="6.8" fill="#fff" stroke="#4ec94e" stroke-width="1.3"/><circle cx="527.8" cy="608.4" r="6.8" fill="#fff" stroke="#4ec94e" stroke-width="1.3"/><circle cx="541.2" cy="630.5" r="6.8" fill="#fff" stroke="#4ec94e" stroke-width="1.3"/>
<path d="M130 513.7 L139.6 513.7 L152.7 513.7 L168.4 513.7 L185.6 513.7 L203.4 513.7 L220.7 513.7 L236.6 513.7 L250 513.7 L261.2 513.7 L271.2 513.7 L280.4 513.7 L288.8 513.7 L296.7 513.7 L304.4 513.8 L312.1 513.9 L320 514 L328.1 514.2 L336.2 514.3 L344.1 514.5 L351.9 514.8 L359.4 515 L366.6 515.3 L373.5 515.6 L380 516 L386.1 516.4 L391.9 516.9 L397.3 517.4 L402.5 517.9 L407.3 518.5 L411.9 519 L416.1 519.5 L420 520 L423.4 520.4 L426.3 520.7 L428.8 521 L431.1 521.3 L433.2 521.6 L435.3 522 L437.5 522.5 L440 523 L442.8 523.7 L445.9 524.5 L449.1 525.4 L452.3 526.4 L455.4 527.3 L458.3 528.2 L460.9 529.1 L463 529.8 L464.7 530.4 L466 531 L467.1 531.6 L467.9 532.1 L468.6 532.5 L469.1 532.9 L469.6 533.2 L470 533.5" stroke="#33337a" stroke-width="1.25" fill="none" stroke-linejoin="round"/>
<path d="M130 387.4 L137.1 387.4 L146.9 387.4 L158.5 387.4 L171.2 387.4 L184.5 387.4 L197.5 387.5 L209.6 387.7 L220 388 L229 388.4 L237.3 388.8 L245.1 389.3 L252.5 389.9 L259.6 390.6 L266.4 391.3 L273.2 392.1 L280 393 L286.8 394 L293.4 395.1 L299.9 396.2 L306.2 397.5 L312.4 398.8 L318.4 400.2 L324.3 401.6 L330 403 L335.5 404.4 L340.7 405.8 L345.7 407.3 L350.6 408.8 L355.4 410.4 L360.2 412.1 L365.1 414.1 L370 416.3 L375.1 418.8 L380.4 421.7 L385.7 424.8 L391 428.1 L396.2 431.3 L401.2 434.5 L405.8 437.6 L410 440.3 L413.7 442.7 L417 444.9 L419.9 446.9 L422.7 448.9 L425.3 450.8 L427.8 452.8 L430.5 455 L433.3 457.3 L436.2 459.8 L439.1 462.5 L442.1 465.2 L445 468 L447.9 470.9 L450.9 473.9 L453.9 476.9 L457 480 L460.2 483.2 L463.4 486.6 L466.7 490 L470 493.6 L473.3 497.1 L476.6 500.5 L479.8 503.7 L483 506.8 L486.1 509.7 L489.3 512.5 L492.4 515.2 L495.5 517.8 L498.5 520.3 L501.5 522.7 L504.3 524.9 L507 526.9 L509.5 528.7 L512 530.4 L514.2 531.8 L516.4 533.2 L518.6 534.4 L520.7 535.6 L522.8 536.8 L525 538 L527.3 539.2 L529.7 540.4 L532.1 541.6 L534.5 542.8 L536.8 543.9 L538.8 544.8 L540.5 545.6 L541.8 546.2" stroke="#3ec63e" stroke-width="1.25" fill="none" stroke-linejoin="round"/>
<path d="M256.5 405.5 L257.4 405.8 L258.5 406.1 L259.8 406.6 L261.4 407 L263.1 407.6 L265.1 408.3 L267.4 409.1 L270 410 L272.9 411.1 L276.1 412.4 L279.6 413.8 L283.3 415.3 L287.3 416.9 L291.4 418.5 L295.7 420 L300 421.5 L304.5 422.9 L309.3 424.3 L314.3 425.7 L319.4 427.2 L324.6 428.6 L329.8 430 L334.9 431.5 L340 433 L345.1 434.6 L350.4 436.3 L355.7 438 L360.9 439.7 L366.1 441.4 L371.1 443.1 L375.7 444.6 L380 446 L384 447.3 L387.9 448.5 L391.6 449.7 L395 450.8 L398.1 451.8 L400.9 452.7 L403.2 453.4 L405 454" stroke="#6e5a78" stroke-width="1.25" fill="none" stroke-linejoin="round"/>
<path d="M256.5 407 L257.4 407.3 L258.5 407.8 L259.8 408.2 L261.4 408.8 L263.1 409.5 L265.1 410.2 L267.4 411.1 L270 412 L272.9 413.1 L276.1 414.3 L279.6 415.7 L283.3 417.1 L287.3 418.6 L291.4 420.1 L295.7 421.6 L300 423 L304.5 424.4 L309.3 425.7 L314.3 427 L319.4 428.4 L324.6 429.7 L329.8 431.1 L334.9 432.5 L340 434 L345.1 435.6 L350.4 437.2 L355.7 438.9 L360.9 440.6 L366.1 442.3 L371.1 444 L375.7 445.6 L380 447 L384 448.4 L387.9 449.7 L391.6 451.1 L395 452.3 L398.1 453.5 L400.9 454.5 L403.2 455.3 L405 456" stroke="#7a5a28" stroke-width="1.25" fill="none" stroke-linejoin="round"/>
<path d="M130 283.4 L135.6 283.4 L143.3 283.4 L152.4 283.4 L162.5 283.4 L172.9 283.4 L183 283.5 L192.2 283.7 L200 284 L206.5 284.4 L212.5 284.9 L217.9 285.6 L222.8 286.2 L227.4 286.9 L231.8 287.7 L235.9 288.4 L240 289 L243.9 289.6 L247.4 290.2 L250.7 290.8 L253.8 291.4 L256.7 292 L259.4 292.6 L262 293.2 L264.6 293.8 L267 294.4 L269.3 294.9 L271.4 295.4 L273.3 295.9 L275.2 296.4 L277.1 297 L279 297.6 L281 298.3 L283 299 L284.9 299.7 L286.8 300.4 L288.7 301.2 L290.6 302.1 L292.7 303 L295 304.1 L297.4 305.3 L300.2 306.7 L303.2 308.4 L306.5 310.1 L309.9 312 L313.3 313.9 L316.5 315.8 L319.4 317.6 L322 319.2 L324.2 320.7 L326 322 L327.7 323.3 L329.1 324.6 L330.5 325.8 L331.9 327.1 L333.4 328.5 L335 330 L336.7 331.6 L338.5 333.4 L340.2 335.2 L342 337 L343.8 338.9 L345.6 340.7 L347.4 342.5 L349.2 344.3 L351 346 L352.9 347.7 L354.7 349.3 L356.6 351 L358.4 352.6 L360.2 354.2 L362 355.8 L363.8 357.4 L365.5 358.9 L367.1 360.4 L368.7 361.8 L370.3 363.3 L371.9 364.8 L373.5 366.3 L375.2 368.1 L376.9 370 L378.8 372.3 L380.9 374.9 L383.1 377.8 L385.3 380.8 L387.4 383.6 L389.2 386.2 L390.8 388.4 L392 390" stroke="#c0302a" stroke-width="1.25" fill="none" stroke-linejoin="round"/>
<path d="M130 272.4 L135.5 272.5 L143 272.5 L152 272.6 L161.9 272.7 L172.1 272.8 L182.3 273 L191.7 273.3 L200 273.7 L207.3 274.2 L214.1 274.7 L220.7 275.3 L226.9 275.9 L232.9 276.7 L238.7 277.6 L244.4 278.7 L250 280 L255.5 281.5 L260.9 283.3 L266.2 285.2 L271.2 287.3 L276.2 289.5 L280.9 291.7 L285.5 293.9 L290 296 L294.2 298 L298.2 299.8 L302 301.6 L305.6 303.5 L309.2 305.5 L312.7 307.7 L316.3 310.2 L320 313 L323.8 316.2 L327.5 319.8 L331.2 323.7 L335 327.8 L338.8 332 L342.5 336.3 L346.2 340.7 L350 345 L353.8 349.4 L357.5 353.9 L361.2 358.5 L365 363.1 L368.8 367.8 L372.5 372.6 L376.2 377.3 L380 382 L383.8 386.7 L387.5 391.3 L391.2 395.9 L395 400.5 L398.8 405.2 L402.5 410 L406.2 414.9 L410 420 L413.9 425.4 L417.9 431.3 L421.9 437.3 L426 443.4 L429.9 449.4 L433.6 455.1 L437 460.4 L440 465 L442.5 469 L444.7 472.6 L446.5 475.9 L448.2 478.8 L449.7 481.4 L451.2 483.9 L452.7 486.3 L454.4 488.6 L456.2 490.8 L458 492.7 L459.8 494.4 L461.6 495.9 L463.4 497.4 L465.2 498.9 L467 500.4 L468.8 502 L470.5 503.7 L472.1 505.4 L473.7 507.1 L475.3 508.8 L477 510.4 L478.8 512.1 L480.8 513.8 L483 515.4 L485.6 517 L488.5 518.7 L491.5 520.3 L494.8 521.9 L498 523.5 L501.2 525 L504.2 526.5 L507 527.8 L509.5 529 L512 530.2 L514.2 531.2 L516.4 532.2 L518.6 533.2 L520.7 534.1 L522.8 535.1 L525 536 L527.3 537 L529.7 538 L532.1 539.1 L534.5 540.1 L536.8 541 L538.8 541.9 L540.5 542.6 L541.8 543.1" stroke="#cc33cc" stroke-width="1.25" fill="none" stroke-linejoin="round"/>
</g>
<clipPath id="clipR"><rect x="648.4" y="33.082017595114145" width="412.29999999999984" height="683.8179824048859"/></clipPath>
<g clip-path="url(#clipR)">
<rect x="666.1" y="49" width="13" height="12.6" fill="#0000ff"/><rect x="679.5" y="52" width="13" height="12.6" fill="#0000ff"/><rect x="692.8" y="47.3" width="13" height="12.6" fill="#0000ff"/><rect x="706.2" y="53.7" width="13" height="12.6" fill="#0000ff"/><rect x="719.6" y="56.7" width="13" height="12.6" fill="#0000ff"/><rect x="732.9" y="61.4" width="13" height="12.6" fill="#0000ff"/><rect x="746.3" y="66.6" width="13" height="12.6" fill="#0000ff"/><rect x="759.7" y="73.1" width="13" height="12.6" fill="#0000ff"/><rect x="773" y="80.2" width="13" height="12.6" fill="#0000ff"/><rect x="786.4" y="88.1" width="13" height="12.6" fill="#0000ff"/><rect x="799.7" y="97" width="13" height="12.6" fill="#0000ff"/><rect x="813.1" y="106.4" width="13" height="12.6" fill="#0000ff"/><rect x="826.5" y="115.3" width="13" height="12.6" fill="#0000ff"/><rect x="839.8" y="124.7" width="13" height="12.6" fill="#0000ff"/><rect x="853.2" y="133.3" width="13" height="12.6" fill="#0000ff"/><rect x="866.5" y="142.6" width="13" height="12.6" fill="#0000ff"/><rect x="879.9" y="153.4" width="13" height="12.6" fill="#0000ff"/><rect x="893.3" y="164.7" width="13" height="12.6" fill="#0000ff"/><rect x="906.6" y="177.2" width="13" height="12.6" fill="#0000ff"/><rect x="920" y="187.3" width="13" height="12.6" fill="#0000ff"/><rect x="933.3" y="197.7" width="13" height="12.6" fill="#0000ff"/><rect x="946.7" y="206.7" width="13" height="12.6" fill="#0000ff"/><rect x="960.1" y="218.1" width="13" height="12.6" fill="#0000ff"/><rect x="973.4" y="226.2" width="13" height="12.6" fill="#0000ff"/><rect x="986.8" y="237.7" width="13" height="12.6" fill="#0000ff"/><rect x="1000.2" y="250.5" width="13" height="12.6" fill="#0000ff"/><rect x="1013.5" y="259.4" width="13" height="12.6" fill="#0000ff"/><rect x="1026.9" y="270.4" width="13" height="12.6" fill="#0000ff"/><rect x="1040.2" y="280.2" width="13" height="12.6" fill="#0000ff"/><rect x="1053.6" y="290.4" width="13" height="12.6" fill="#0000ff"/>
<path d="M665.1 477.8L680.1 492.8M665.1 492.8L680.1 477.8" stroke="#55dddd" stroke-width="1.3" fill="none"/><path d="M678.5 486.8L693.5 501.8M678.5 501.8L693.5 486.8" stroke="#55dddd" stroke-width="1.3" fill="none"/><path d="M691.8 477.5L706.8 492.5M691.8 492.5L706.8 477.5" stroke="#55dddd" stroke-width="1.3" fill="none"/><path d="M705.2 476.5L720.2 491.5M705.2 491.5L720.2 476.5" stroke="#55dddd" stroke-width="1.3" fill="none"/><path d="M718.6 463.5L733.6 478.5M718.6 478.5L733.6 463.5" stroke="#55dddd" stroke-width="1.3" fill="none"/><path d="M731.9 452L746.9 467M731.9 467L746.9 452" stroke="#55dddd" stroke-width="1.3" fill="none"/><path d="M745.3 444L760.3 459M745.3 459L760.3 444" stroke="#55dddd" stroke-width="1.3" fill="none"/><path d="M758.7 433.5L773.7 448.5M758.7 448.5L773.7 433.5" stroke="#55dddd" stroke-width="1.3" fill="none"/><path d="M772 422L787 437M772 437L787 422" stroke="#55dddd" stroke-width="1.3" fill="none"/><path d="M785.4 410L800.4 425M785.4 425L800.4 410" stroke="#55dddd" stroke-width="1.3" fill="none"/><path d="M798.7 398L813.7 413M798.7 413L813.7 398" stroke="#55dddd" stroke-width="1.3" fill="none"/><path d="M812.1 385.5L827.1 400.5M812.1 400.5L827.1 385.5" stroke="#55dddd" stroke-width="1.3" fill="none"/><path d="M825.5 374L840.5 389M825.5 389L840.5 374" stroke="#55dddd" stroke-width="1.3" fill="none"/><path d="M838.8 361.5L853.8 376.5M838.8 376.5L853.8 361.5" stroke="#55dddd" stroke-width="1.3" fill="none"/><path d="M852.2 350.3L867.2 365.3M852.2 365.3L867.2 350.3" stroke="#55dddd" stroke-width="1.3" fill="none"/><path d="M865.5 340.7L880.5 355.7M865.5 355.7L880.5 340.7" stroke="#55dddd" stroke-width="1.3" fill="none"/><path d="M878.9 332.4L893.9 347.4M878.9 347.4L893.9 332.4" stroke="#55dddd" stroke-width="1.3" fill="none"/><path d="M892.3 325.5L907.3 340.5M892.3 340.5L907.3 325.5" stroke="#55dddd" stroke-width="1.3" fill="none"/><path d="M905.6 324.2L920.6 339.2M905.6 339.2L920.6 324.2" stroke="#55dddd" stroke-width="1.3" fill="none"/><path d="M919 322.8L934 337.8M919 337.8L934 322.8" stroke="#55dddd" stroke-width="1.3" fill="none"/><path d="M932.3 326.9L947.3 341.9M932.3 341.9L947.3 326.9" stroke="#55dddd" stroke-width="1.3" fill="none"/><path d="M945.7 328.3L960.7 343.3M945.7 343.3L960.7 328.3" stroke="#55dddd" stroke-width="1.3" fill="none"/><path d="M959.1 329.7L974.1 344.7M959.1 344.7L974.1 329.7" stroke="#55dddd" stroke-width="1.3" fill="none"/><path d="M972.4 325.5L987.4 340.5M972.4 340.5L987.4 325.5" stroke="#55dddd" stroke-width="1.3" fill="none"/><path d="M985.8 320L1000.8 335M985.8 335L1000.8 320" stroke="#55dddd" stroke-width="1.3" fill="none"/><path d="M999.2 318.7L1014.2 333.7M999.2 333.7L1014.2 318.7" stroke="#55dddd" stroke-width="1.3" fill="none"/><path d="M1012.5 320L1027.5 335M1012.5 335L1027.5 320" stroke="#55dddd" stroke-width="1.3" fill="none"/><path d="M1025.9 322.8L1040.9 337.8M1025.9 337.8L1040.9 322.8" stroke="#55dddd" stroke-width="1.3" fill="none"/><path d="M1039.2 322.5L1054.2 337.5M1039.2 337.5L1054.2 322.5" stroke="#55dddd" stroke-width="1.3" fill="none"/><path d="M1052.6 323.5L1067.6 338.5M1052.6 338.5L1067.6 323.5" stroke="#55dddd" stroke-width="1.3" fill="none"/>
<path d="M648.4 240.5 L650.9 238.7 L654.2 236.3 L658.2 233.4 L662.6 230.2 L667.2 227 L671.8 223.7 L676.1 220.7 L680 218 L683.5 215.6 L686.8 213.4 L690 211.2 L693.1 209.2 L696.1 207.2 L699.1 205.4 L702.1 203.6 L705 202 L707.9 200.6 L710.8 199.3 L713.6 198.3 L716.3 197.3 L719 196.3 L721.7 195.3 L724.4 194.1 L727 192.8 L729.6 191.2 L732.2 189.5 L734.7 187.7 L737.2 185.8 L739.6 183.9 L742.1 182.1 L744.5 180.3 L746.9 178.7 L749.1 177.2 L751.2 175.9 L753.1 174.6 L755.1 173.4 L757.2 172.2 L759.5 170.9 L762.1 169.7 L765.2 168.3 L768.8 166.8 L772.9 165.1 L777.4 163.4 L782.1 161.7 L786.9 160 L791.6 158.4 L796.2 157.1 L800.4 156 L804.4 155.2 L808.2 154.6 L811.9 154.2 L815.5 153.9 L819.1 153.7 L822.7 153.6 L826.3 153.6 L830 153.5 L833.8 153.5 L837.8 153.5 L841.7 153.7 L845.7 153.8 L849.6 154.1 L853.3 154.4 L856.8 154.7 L860 155 L862.8 155.3 L865.2 155.6 L867.5 155.9 L869.5 156.3 L871.5 156.7 L873.5 157.3 L875.6 158.1 L878 159 L880.5 160.2 L883 161.5 L885.6 163 L888.2 164.6 L891 166.4 L893.8 168.2 L896.8 170.1 L900 172 L903.4 174 L906.9 176.1 L910.7 178.4 L914.5 180.7 L918.4 183 L922.3 185.4 L926.2 187.7 L930 190 L933.8 192.2 L937.5 194.5 L941.2 196.7 L945 198.9 L948.8 201.1 L952.5 203.4 L956.2 205.7 L960 208 L963.8 210.4 L967.5 212.8 L971.2 215.3 L975 217.8 L978.8 220.3 L982.5 222.8 L986.2 225.4 L990 228 L993.7 230.6 L997.2 233.1 L1000.8 235.6 L1004.3 238.2 L1007.9 240.9 L1011.7 243.7 L1015.7 246.7 L1020 250 L1024.9 253.8 L1030.4 258.2 L1036.4 263 L1042.4 267.9 L1048.1 272.6 L1053.4 276.8 L1057.8 280.4 L1061 283" stroke="#c0302a" stroke-width="1.25" fill="none" stroke-linejoin="round"/>
<path d="M648.4 262 L650.2 260.3 L652.7 257.9 L655.7 255.1 L659 252 L662.4 248.8 L665.8 245.6 L668.9 242.6 L671.7 240 L674.2 237.7 L676.5 235.5 L678.8 233.3 L681 231.3 L683 229.4 L685 227.5 L686.9 225.7 L688.7 224 L690.4 222.4 L691.8 220.9 L693.2 219.5 L694.5 218.1 L695.7 216.8 L697 215.6 L698.4 214.3 L700 213 L701.7 211.7 L703.6 210.3 L705.5 208.9 L707.5 207.5 L709.4 206.2 L711.4 205 L713.2 203.9 L715 203 L716.6 202.2 L718.2 201.6 L719.7 201.1 L721.1 200.7 L722.6 200.4 L724 200.1 L725.5 199.8 L727 199.5 L728.6 199.2 L730.1 198.9 L731.7 198.7 L733.3 198.5 L734.9 198.4 L736.6 198.2 L738.3 198.1 L740 198 L741.8 197.9 L743.6 197.8 L745.5 197.8 L747.4 197.7 L749.3 197.7 L751.2 197.8 L753.1 197.8 L755 198 L756.8 198.2 L758.4 198.4 L760 198.7 L761.6 199 L763.3 199.4 L765.2 199.8 L767.4 200.4 L770 201 L773 201.7 L776.4 202.5 L780.2 203.4 L784.1 204.4 L788.1 205.4 L792.1 206.5 L796.1 207.7 L800 209 L803.8 210.4 L807.5 211.9 L811.2 213.5 L815 215.2 L818.8 216.9 L822.5 218.6 L826.2 220.3 L830 222 L833.7 223.7 L837.3 225.4 L840.8 227.1 L844.4 228.9 L848 230.6 L851.8 232.2 L855.8 233.7 L860 235 L864.5 236.2 L869.3 237.2 L874.3 238.2 L879.4 239.1 L884.6 239.9 L889.8 240.6 L894.9 241.3 L900 242 L905.1 242.6 L910.2 243.1 L915.4 243.5 L920.6 243.9 L925.7 244.3 L930.7 244.8 L935.5 245.3 L940 246 L944.2 246.8 L948.2 247.6 L952 248.6 L955.6 249.6 L959.2 250.6 L962.7 251.7 L966.3 252.8 L970 254 L973.8 255.2 L977.5 256.4 L981.2 257.6 L985 258.9 L988.8 260.3 L992.5 261.8 L996.2 263.3 L1000 265 L1003.7 266.8 L1007.5 268.8 L1011.2 270.8 L1014.9 273 L1018.7 275.2 L1022.4 277.5 L1026.2 279.7 L1030 282 L1034 284.4 L1038.4 287.1 L1042.9 289.8 L1047.4 292.6 L1051.6 295.2 L1055.4 297.5 L1058.6 299.5 L1061 301" stroke="#ee1111" stroke-width="1.25" fill="none" stroke-linejoin="round"/>
<path d="M648.4 379.5 L650.5 377.4 L653.2 374.6 L656.5 371.3 L660.1 367.6 L664 363.7 L667.8 359.9 L671.6 356.2 L675 353 L678.1 350.2 L681 347.6 L683.8 345.2 L686.7 342.8 L689.6 340.4 L692.7 337.8 L696.2 335.1 L700 332 L704.3 328.6 L708.9 324.8 L713.9 320.8 L719.1 316.8 L724.3 312.6 L729.6 308.6 L734.9 304.7 L740 301 L745.1 297.5 L750.3 294.1 L755.6 290.7 L760.9 287.4 L766 284.3 L771 281.3 L775.7 278.6 L780 276 L783.9 273.7 L787.5 271.5 L790.7 269.6 L793.8 267.8 L796.8 266.2 L799.8 264.7 L802.8 263.3 L806 262 L809.3 260.8 L812.7 259.8 L816.1 259 L819.4 258.2 L822.8 257.6 L826.2 257 L829.6 256.5 L833 256 L836.4 255.6 L839.8 255.2 L843.1 255 L846.5 254.8 L849.9 254.6 L853.2 254.4 L856.6 254.2 L860 254 L863.4 253.8 L866.8 253.5 L870.2 253.2 L873.6 253 L876.9 252.8 L880.3 252.5 L883.7 252.2 L887 252 L890.3 251.7 L893.5 251.4 L896.8 251.1 L900 250.8 L903.2 250.5 L906.5 250.2 L909.7 250.1 L913 250 L916.3 250 L919.7 250.1 L923.1 250.3 L926.4 250.5 L929.8 250.8 L933.2 251.1 L936.6 251.5 L940 252 L943.4 252.5 L946.8 253.2 L950.3 253.9 L953.8 254.6 L957.2 255.4 L960.5 256.3 L963.8 257.1 L967 258 L970.1 258.9 L973.1 259.8 L976 260.8 L978.9 261.8 L981.8 262.8 L984.6 263.9 L987.3 264.9 L990 266 L992.6 267 L995.1 268.1 L997.5 269.1 L999.9 270.1 L1002.3 271.2 L1004.7 272.4 L1007.3 273.6 L1010 275 L1012.9 276.5 L1015.9 278.1 L1019 279.8 L1022.1 281.6 L1025.3 283.4 L1028.6 285.2 L1031.8 287.1 L1035 289 L1038.4 291 L1042 293.2 L1045.8 295.6 L1049.6 297.9 L1053.1 300.1 L1056.3 302.1 L1059 303.8 L1061 305" stroke="#3ec63e" stroke-width="1.25" fill="none" stroke-linejoin="round"/>
<path d="M668.3 212.8L681.3 221L668.3 229.2Z" fill="#ff00ff"/><path d="M681.7 213.8L694.7 222L681.7 230.2Z" fill="#ff00ff"/><path d="M695 210.4L708 218.6L695 226.8Z" fill="#ff00ff"/><path d="M708.4 207.8L721.4 216L708.4 224.2Z" fill="#ff00ff"/><path d="M721.7 207.5L734.7 215.7L721.7 223.8Z" fill="#ff00ff"/><path d="M735.1 209.2L748.1 217.4L735.1 225.6Z" fill="#ff00ff"/><path d="M748.5 211.7L761.5 219.8L748.5 228Z" fill="#ff00ff"/><path d="M761.8 214L774.8 222.2L761.8 230.3Z" fill="#ff00ff"/><path d="M775.2 218.8L788.2 226.9L775.2 235.1Z" fill="#ff00ff"/><path d="M788.5 224.7L801.5 232.8L788.5 241Z" fill="#ff00ff"/><path d="M801.9 230.4L814.9 238.6L801.9 246.8Z" fill="#ff00ff"/><path d="M815.3 236.3L828.3 244.5L815.3 252.7Z" fill="#ff00ff"/><path d="M828.6 239.8L841.6 248L828.6 256.1Z" fill="#ff00ff"/><path d="M842 241.3L855 249.5L842 257.6Z" fill="#ff00ff"/><path d="M855.3 241.8L868.3 250L855.3 258.1Z" fill="#ff00ff"/><path d="M868.7 241.5L881.7 249.6L868.7 257.8Z" fill="#ff00ff"/><path d="M882.1 241.1L895.1 249.2L882.1 257.4Z" fill="#ff00ff"/><path d="M895.4 240.7L908.4 248.9L895.4 257Z" fill="#ff00ff"/><path d="M908.8 240.3L921.8 248.5L908.8 256.6Z" fill="#ff00ff"/><path d="M922.2 240.3L935.2 248.5L922.2 256.6Z" fill="#ff00ff"/><path d="M935.5 240.8L948.5 249L935.5 257.1Z" fill="#ff00ff"/><path d="M948.9 243.2L961.9 251.4L948.9 259.6Z" fill="#ff00ff"/><path d="M962.2 246.5L975.2 254.7L962.2 262.8Z" fill="#ff00ff"/><path d="M975.6 250.5L988.6 258.7L975.6 266.8Z" fill="#ff00ff"/><path d="M989 254.8L1002 263L989 271.1Z" fill="#ff00ff"/><path d="M1002.3 259.9L1015.3 268L1002.3 276.1Z" fill="#ff00ff"/><path d="M1015.7 265.9L1028.7 274L1015.7 282.1Z" fill="#ff00ff"/><path d="M1029 272.9L1042 281L1029 289.1Z" fill="#ff00ff"/><path d="M1042.4 280.9L1055.4 289L1042.4 297.1Z" fill="#ff00ff"/><path d="M1055.8 288.9L1068.8 297L1055.8 305.1Z" fill="#ff00ff"/>
<rect x="666.1" y="218.7" width="13" height="12.6" fill="#ff0000"/><rect x="679.5" y="210.2" width="13" height="12.6" fill="#ff0000"/><rect x="692.8" y="202.2" width="13" height="12.6" fill="#ff0000"/><rect x="706.2" y="197.2" width="13" height="12.6" fill="#ff0000"/><rect x="719.6" y="192.7" width="13" height="12.6" fill="#ff0000"/><rect x="732.9" y="191.7" width="13" height="12.6" fill="#ff0000"/><rect x="746.3" y="191.7" width="13" height="12.6" fill="#ff0000"/><rect x="759.7" y="194" width="13" height="12.6" fill="#ff0000"/><rect x="773" y="197.8" width="13" height="12.6" fill="#ff0000"/><rect x="786.4" y="203.4" width="13" height="12.6" fill="#ff0000"/><rect x="799.7" y="209.2" width="13" height="12.6" fill="#ff0000"/><rect x="813.1" y="215.1" width="13" height="12.6" fill="#ff0000"/><rect x="826.5" y="220.3" width="13" height="12.6" fill="#ff0000"/><rect x="839.8" y="224.7" width="13" height="12.6" fill="#ff0000"/><rect x="853.2" y="228.7" width="13" height="12.6" fill="#ff0000"/><rect x="866.5" y="231.7" width="13" height="12.6" fill="#ff0000"/><rect x="879.9" y="233.7" width="13" height="12.6" fill="#ff0000"/><rect x="893.3" y="234.7" width="13" height="12.6" fill="#ff0000"/><rect x="906.6" y="235.7" width="13" height="12.6" fill="#ff0000"/><rect x="920" y="237.2" width="13" height="12.6" fill="#ff0000"/><rect x="933.3" y="239.2" width="13" height="12.6" fill="#ff0000"/><rect x="946.7" y="242.2" width="13" height="12.6" fill="#ff0000"/><rect x="960.1" y="247" width="13" height="12.6" fill="#ff0000"/><rect x="973.4" y="251" width="13" height="12.6" fill="#ff0000"/><rect x="986.8" y="256.7" width="13" height="12.6" fill="#ff0000"/><rect x="1000.2" y="264.2" width="13" height="12.6" fill="#ff0000"/><rect x="1013.5" y="270.7" width="13" height="12.6" fill="#ff0000"/><rect x="1026.9" y="278.7" width="13" height="12.6" fill="#ff0000"/><rect x="1040.2" y="286.7" width="13" height="12.6" fill="#ff0000"/><rect x="1053.6" y="294.7" width="13" height="12.6" fill="#ff0000"/>
<circle cx="672.6" cy="389.3" r="7.4" fill="#00ff00"/><circle cx="686" cy="388" r="7.4" fill="#00ff00"/><circle cx="699.3" cy="349.5" r="7.4" fill="#00ff00"/><circle cx="712.7" cy="320.7" r="7.4" fill="#00ff00"/><circle cx="726.1" cy="321.9" r="7.4" fill="#00ff00"/><circle cx="739.4" cy="309" r="7.4" fill="#00ff00"/><circle cx="752.8" cy="298.4" r="7.4" fill="#00ff00"/><circle cx="766.2" cy="287.9" r="7.4" fill="#00ff00"/><circle cx="779.5" cy="279.6" r="7.4" fill="#00ff00"/><circle cx="792.9" cy="270.3" r="7.4" fill="#00ff00"/><circle cx="806.2" cy="263.2" r="7.4" fill="#00ff00"/><circle cx="819.6" cy="259.7" r="7.4" fill="#00ff00"/><circle cx="833" cy="257.4" r="7.4" fill="#00ff00"/><circle cx="846.3" cy="257" r="7.4" fill="#00ff00"/><circle cx="859.7" cy="256" r="7.4" fill="#00ff00"/><circle cx="873" cy="253.6" r="7.4" fill="#00ff00"/><circle cx="886.4" cy="252.7" r="7.4" fill="#00ff00"/><circle cx="899.8" cy="250.7" r="7.4" fill="#00ff00"/><circle cx="913.1" cy="249.7" r="7.4" fill="#00ff00"/><circle cx="926.5" cy="251.1" r="7.4" fill="#00ff00"/><circle cx="939.8" cy="252.3" r="7.4" fill="#00ff00"/><circle cx="953.2" cy="255.5" r="7.4" fill="#00ff00"/><circle cx="966.6" cy="258.5" r="7.4" fill="#00ff00"/><circle cx="979.9" cy="263" r="7.4" fill="#00ff00"/><circle cx="993.3" cy="266.3" r="7.4" fill="#00ff00"/><circle cx="1006.7" cy="272.2" r="7.4" fill="#00ff00"/><circle cx="1020" cy="280" r="7.4" fill="#00ff00"/><circle cx="1033.4" cy="287.8" r="7.4" fill="#00ff00"/><circle cx="1046.7" cy="296.7" r="7.4" fill="#00ff00"/><circle cx="1060.1" cy="306.5" r="7.4" fill="#00ff00"/>
<path d="M667.3 486.9L677.9 486.9" stroke="#6464bc" stroke-width="1.14" fill="none"/><path d="M672.6 481.6L672.6 492.2" stroke="#7a7ac8" stroke-width="1.14" fill="none"/><path d="M667.3 481.6L677.9 492.2M667.3 492.2L677.9 481.6" stroke="#3e3e9c" stroke-width="1.2" fill="none"/><circle cx="672.6" cy="486.9" r="1.3" fill="#2a2ab8"/><path d="M680.7 497.7L691.3 497.7" stroke="#6464bc" stroke-width="1.14" fill="none"/><path d="M686 492.4L686 503" stroke="#7a7ac8" stroke-width="1.14" fill="none"/><path d="M680.7 492.4L691.3 503M680.7 503L691.3 492.4" stroke="#3e3e9c" stroke-width="1.2" fill="none"/><circle cx="686" cy="497.7" r="1.3" fill="#2a2ab8"/><path d="M694 498.5L704.6 498.5" stroke="#6464bc" stroke-width="1.14" fill="none"/><path d="M699.3 493.2L699.3 503.8" stroke="#7a7ac8" stroke-width="1.14" fill="none"/><path d="M694 493.2L704.6 503.8M694 503.8L704.6 493.2" stroke="#3e3e9c" stroke-width="1.2" fill="none"/><circle cx="699.3" cy="498.5" r="1.3" fill="#2a2ab8"/><path d="M707.4 537.5L718 537.5" stroke="#6464bc" stroke-width="1.14" fill="none"/><path d="M712.7 532.2L712.7 542.8" stroke="#7a7ac8" stroke-width="1.14" fill="none"/><path d="M707.4 532.2L718 542.8M707.4 542.8L718 532.2" stroke="#3e3e9c" stroke-width="1.2" fill="none"/><circle cx="712.7" cy="537.5" r="1.3" fill="#2a2ab8"/><path d="M720.8 501.2L731.4 501.2" stroke="#6464bc" stroke-width="1.14" fill="none"/><path d="M726.1 495.9L726.1 506.5" stroke="#7a7ac8" stroke-width="1.14" fill="none"/><path d="M720.8 495.9L731.4 506.5M720.8 506.5L731.4 495.9" stroke="#3e3e9c" stroke-width="1.2" fill="none"/><circle cx="726.1" cy="501.2" r="1.3" fill="#2a2ab8"/><path d="M734.1 504.7L744.7 504.7" stroke="#6464bc" stroke-width="1.14" fill="none"/><path d="M739.4 499.4L739.4 510" stroke="#7a7ac8" stroke-width="1.14" fill="none"/><path d="M734.1 499.4L744.7 510M734.1 510L744.7 499.4" stroke="#3e3e9c" stroke-width="1.2" fill="none"/><circle cx="739.4" cy="504.7" r="1.3" fill="#2a2ab8"/><path d="M747.5 494.4L758.1 494.4" stroke="#6464bc" stroke-width="1.14" fill="none"/><path d="M752.8 489.1L752.8 499.7" stroke="#7a7ac8" stroke-width="1.14" fill="none"/><path d="M747.5 489.1L758.1 499.7M747.5 499.7L758.1 489.1" stroke="#3e3e9c" stroke-width="1.2" fill="none"/><circle cx="752.8" cy="494.4" r="1.3" fill="#2a2ab8"/><path d="M760.9 484.2L771.5 484.2" stroke="#6464bc" stroke-width="1.14" fill="none"/><path d="M766.2 478.9L766.2 489.5" stroke="#7a7ac8" stroke-width="1.14" fill="none"/><path d="M760.9 478.9L771.5 489.5M760.9 489.5L771.5 478.9" stroke="#3e3e9c" stroke-width="1.2" fill="none"/><circle cx="766.2" cy="484.2" r="1.3" fill="#2a2ab8"/><path d="M774.2 473.7L784.8 473.7" stroke="#6464bc" stroke-width="1.14" fill="none"/><path d="M779.5 468.4L779.5 479" stroke="#7a7ac8" stroke-width="1.14" fill="none"/><path d="M774.2 468.4L784.8 479M774.2 479L784.8 468.4" stroke="#3e3e9c" stroke-width="1.2" fill="none"/><circle cx="779.5" cy="473.7" r="1.3" fill="#2a2ab8"/><path d="M787.6 461L798.2 461" stroke="#6464bc" stroke-width="1.14" fill="none"/><path d="M792.9 455.7L792.9 466.3" stroke="#7a7ac8" stroke-width="1.14" fill="none"/><path d="M787.6 455.7L798.2 466.3M787.6 466.3L798.2 455.7" stroke="#3e3e9c" stroke-width="1.2" fill="none"/><circle cx="792.9" cy="461" r="1.3" fill="#2a2ab8"/><path d="M800.9 450.3L811.5 450.3" stroke="#6464bc" stroke-width="1.14" fill="none"/><path d="M806.2 445L806.2 455.6" stroke="#7a7ac8" stroke-width="1.14" fill="none"/><path d="M800.9 445L811.5 455.6M800.9 455.6L811.5 445" stroke="#3e3e9c" stroke-width="1.2" fill="none"/><circle cx="806.2" cy="450.3" r="1.3" fill="#2a2ab8"/><path d="M814.3 438L824.9 438" stroke="#6464bc" stroke-width="1.14" fill="none"/><path d="M819.6 432.7L819.6 443.3" stroke="#7a7ac8" stroke-width="1.14" fill="none"/><path d="M814.3 432.7L824.9 443.3M814.3 443.3L824.9 432.7" stroke="#3e3e9c" stroke-width="1.2" fill="none"/><circle cx="819.6" cy="438" r="1.3" fill="#2a2ab8"/><path d="M827.7 425.9L838.3 425.9" stroke="#6464bc" stroke-width="1.14" fill="none"/><path d="M833 420.6L833 431.2" stroke="#7a7ac8" stroke-width="1.14" fill="none"/><path d="M827.7 420.6L838.3 431.2M827.7 431.2L838.3 420.6" stroke="#3e3e9c" stroke-width="1.2" fill="none"/><circle cx="833" cy="425.9" r="1.3" fill="#2a2ab8"/><path d="M841 413.3L851.6 413.3" stroke="#6464bc" stroke-width="1.14" fill="none"/><path d="M846.3 408L846.3 418.6" stroke="#7a7ac8" stroke-width="1.14" fill="none"/><path d="M841 408L851.6 418.6M841 418.6L851.6 408" stroke="#3e3e9c" stroke-width="1.2" fill="none"/><circle cx="846.3" cy="413.3" r="1.3" fill="#2a2ab8"/><path d="M854.4 402.4L865 402.4" stroke="#6464bc" stroke-width="1.14" fill="none"/><path d="M859.7 397.1L859.7 407.7" stroke="#7a7ac8" stroke-width="1.14" fill="none"/><path d="M854.4 397.1L865 407.7M854.4 407.7L865 397.1" stroke="#3e3e9c" stroke-width="1.2" fill="none"/><circle cx="859.7" cy="402.4" r="1.3" fill="#2a2ab8"/><path d="M867.7 389.5L878.3 389.5" stroke="#6464bc" stroke-width="1.14" fill="none"/><path d="M873 384.2L873 394.8" stroke="#7a7ac8" stroke-width="1.14" fill="none"/><path d="M867.7 384.2L878.3 394.8M867.7 394.8L878.3 384.2" stroke="#3e3e9c" stroke-width="1.2" fill="none"/><circle cx="873" cy="389.5" r="1.3" fill="#2a2ab8"/><path d="M881.1 377.9L891.7 377.9" stroke="#6464bc" stroke-width="1.14" fill="none"/><path d="M886.4 372.6L886.4 383.2" stroke="#7a7ac8" stroke-width="1.14" fill="none"/><path d="M881.1 372.6L891.7 383.2M881.1 383.2L891.7 372.6" stroke="#3e3e9c" stroke-width="1.2" fill="none"/><circle cx="886.4" cy="377.9" r="1.3" fill="#2a2ab8"/><path d="M894.5 366.1L905.1 366.1" stroke="#6464bc" stroke-width="1.14" fill="none"/><path d="M899.8 360.8L899.8 371.4" stroke="#7a7ac8" stroke-width="1.14" fill="none"/><path d="M894.5 360.8L905.1 371.4M894.5 371.4L905.1 360.8" stroke="#3e3e9c" stroke-width="1.2" fill="none"/><circle cx="899.8" cy="366.1" r="1.3" fill="#2a2ab8"/><path d="M907.8 355.1L918.4 355.1" stroke="#6464bc" stroke-width="1.14" fill="none"/><path d="M913.1 349.8L913.1 360.4" stroke="#7a7ac8" stroke-width="1.14" fill="none"/><path d="M907.8 349.8L918.4 360.4M907.8 360.4L918.4 349.8" stroke="#3e3e9c" stroke-width="1.2" fill="none"/><circle cx="913.1" cy="355.1" r="1.3" fill="#2a2ab8"/><path d="M921.2 344.1L931.8 344.1" stroke="#6464bc" stroke-width="1.14" fill="none"/><path d="M926.5 338.8L926.5 349.4" stroke="#7a7ac8" stroke-width="1.14" fill="none"/><path d="M921.2 338.8L931.8 349.4M921.2 349.4L931.8 338.8" stroke="#3e3e9c" stroke-width="1.2" fill="none"/><circle cx="926.5" cy="344.1" r="1.3" fill="#2a2ab8"/><path d="M934.5 333.2L945.1 333.2" stroke="#6464bc" stroke-width="1.14" fill="none"/><path d="M939.8 327.9L939.8 338.5" stroke="#7a7ac8" stroke-width="1.14" fill="none"/><path d="M934.5 327.9L945.1 338.5M934.5 338.5L945.1 327.9" stroke="#3e3e9c" stroke-width="1.2" fill="none"/><circle cx="939.8" cy="333.2" r="1.3" fill="#2a2ab8"/><path d="M947.9 324.8L958.5 324.8" stroke="#6464bc" stroke-width="1.14" fill="none"/><path d="M953.2 319.5L953.2 330.1" stroke="#7a7ac8" stroke-width="1.14" fill="none"/><path d="M947.9 319.5L958.5 330.1M947.9 330.1L958.5 319.5" stroke="#3e3e9c" stroke-width="1.2" fill="none"/><circle cx="953.2" cy="324.8" r="1.3" fill="#2a2ab8"/><path d="M961.3 317.5L971.9 317.5" stroke="#6464bc" stroke-width="1.14" fill="none"/><path d="M966.6 312.2L966.6 322.8" stroke="#7a7ac8" stroke-width="1.14" fill="none"/><path d="M961.3 312.2L971.9 322.8M961.3 322.8L971.9 312.2" stroke="#3e3e9c" stroke-width="1.2" fill="none"/><circle cx="966.6" cy="317.5" r="1.3" fill="#2a2ab8"/><path d="M974.6 312.6L985.2 312.6" stroke="#6464bc" stroke-width="1.14" fill="none"/><path d="M979.9 307.3L979.9 317.9" stroke="#7a7ac8" stroke-width="1.14" fill="none"/><path d="M974.6 307.3L985.2 317.9M974.6 317.9L985.2 307.3" stroke="#3e3e9c" stroke-width="1.2" fill="none"/><circle cx="979.9" cy="312.6" r="1.3" fill="#2a2ab8"/><path d="M988 308.3L998.6 308.3" stroke="#6464bc" stroke-width="1.14" fill="none"/><path d="M993.3 303L993.3 313.6" stroke="#7a7ac8" stroke-width="1.14" fill="none"/><path d="M988 303L998.6 313.6M988 313.6L998.6 303" stroke="#3e3e9c" stroke-width="1.2" fill="none"/><circle cx="993.3" cy="308.3" r="1.3" fill="#2a2ab8"/><path d="M1001.4 306.7L1012 306.7" stroke="#6464bc" stroke-width="1.14" fill="none"/><path d="M1006.7 301.4L1006.7 312" stroke="#7a7ac8" stroke-width="1.14" fill="none"/><path d="M1001.4 301.4L1012 312M1001.4 312L1012 301.4" stroke="#3e3e9c" stroke-width="1.2" fill="none"/><circle cx="1006.7" cy="306.7" r="1.3" fill="#2a2ab8"/><path d="M1014.7 308.3L1025.3 308.3" stroke="#6464bc" stroke-width="1.14" fill="none"/><path d="M1020 303L1020 313.6" stroke="#7a7ac8" stroke-width="1.14" fill="none"/><path d="M1014.7 303L1025.3 313.6M1014.7 313.6L1025.3 303" stroke="#3e3e9c" stroke-width="1.2" fill="none"/><circle cx="1020" cy="308.3" r="1.3" fill="#2a2ab8"/><path d="M1028.1 311L1038.7 311" stroke="#6464bc" stroke-width="1.14" fill="none"/><path d="M1033.4 305.7L1033.4 316.3" stroke="#7a7ac8" stroke-width="1.14" fill="none"/><path d="M1028.1 305.7L1038.7 316.3M1028.1 316.3L1038.7 305.7" stroke="#3e3e9c" stroke-width="1.2" fill="none"/><circle cx="1033.4" cy="311" r="1.3" fill="#2a2ab8"/><path d="M1041.4 315L1052 315" stroke="#6464bc" stroke-width="1.14" fill="none"/><path d="M1046.7 309.7L1046.7 320.3" stroke="#7a7ac8" stroke-width="1.14" fill="none"/><path d="M1041.4 309.7L1052 320.3M1041.4 320.3L1052 309.7" stroke="#3e3e9c" stroke-width="1.2" fill="none"/><circle cx="1046.7" cy="315" r="1.3" fill="#2a2ab8"/><path d="M1054.8 322L1065.4 322" stroke="#6464bc" stroke-width="1.14" fill="none"/><path d="M1060.1 316.7L1060.1 327.3" stroke="#7a7ac8" stroke-width="1.14" fill="none"/><path d="M1054.8 316.7L1065.4 327.3M1054.8 327.3L1065.4 316.7" stroke="#3e3e9c" stroke-width="1.2" fill="none"/><circle cx="1060.1" cy="322" r="1.3" fill="#2a2ab8"/>
<path d="M668.3 191.5L681.3 199.7L668.3 207.8Z" fill="#fff" stroke="#c24ec2" stroke-width="1.3" stroke-linejoin="miter"/><path d="M681.7 190.9L694.7 199.1L681.7 207.2Z" fill="#fff" stroke="#c24ec2" stroke-width="1.3" stroke-linejoin="miter"/><path d="M695 190.3L708 198.5L695 206.7Z" fill="#fff" stroke="#c24ec2" stroke-width="1.3" stroke-linejoin="miter"/><path d="M708.4 169.8L721.4 178L708.4 186.2Z" fill="#fff" stroke="#c24ec2" stroke-width="1.3" stroke-linejoin="miter"/><path d="M721.7 167.2L734.7 175.3L721.7 183.5Z" fill="#fff" stroke="#c24ec2" stroke-width="1.3" stroke-linejoin="miter"/><path d="M735.1 160.7L748.1 168.8L735.1 177Z" fill="#fff" stroke="#c24ec2" stroke-width="1.3" stroke-linejoin="miter"/><path d="M748.5 154.2L761.5 162.4L748.5 170.6Z" fill="#fff" stroke="#c24ec2" stroke-width="1.3" stroke-linejoin="miter"/><path d="M761.8 148.3L774.8 156.5L761.8 164.7Z" fill="#fff" stroke="#c24ec2" stroke-width="1.3" stroke-linejoin="miter"/><path d="M775.2 143.2L788.2 151.4L775.2 159.6Z" fill="#fff" stroke="#c24ec2" stroke-width="1.3" stroke-linejoin="miter"/><path d="M788.5 139.8L801.5 147.9L788.5 156.1Z" fill="#fff" stroke="#c24ec2" stroke-width="1.3" stroke-linejoin="miter"/><path d="M801.9 137.3L814.9 145.5L801.9 153.7Z" fill="#fff" stroke="#c24ec2" stroke-width="1.3" stroke-linejoin="miter"/><path d="M815.3 136.2L828.3 144.4L815.3 152.6Z" fill="#fff" stroke="#c24ec2" stroke-width="1.3" stroke-linejoin="miter"/><path d="M828.6 136.9L841.6 145.1L828.6 153.2Z" fill="#fff" stroke="#c24ec2" stroke-width="1.3" stroke-linejoin="miter"/><path d="M842 138.5L855 146.7L842 154.8Z" fill="#fff" stroke="#c24ec2" stroke-width="1.3" stroke-linejoin="miter"/><path d="M855.3 142.8L868.3 150.9L855.3 159.1Z" fill="#fff" stroke="#c24ec2" stroke-width="1.3" stroke-linejoin="miter"/><path d="M868.7 150.2L881.7 158.4L868.7 166.6Z" fill="#fff" stroke="#c24ec2" stroke-width="1.3" stroke-linejoin="miter"/><path d="M882.1 157.8L895.1 166L882.1 174.2Z" fill="#fff" stroke="#c24ec2" stroke-width="1.3" stroke-linejoin="miter"/><path d="M895.4 165.3L908.4 173.5L895.4 181.7Z" fill="#fff" stroke="#c24ec2" stroke-width="1.3" stroke-linejoin="miter"/><path d="M908.8 174.2L921.8 182.3L908.8 190.5Z" fill="#fff" stroke="#c24ec2" stroke-width="1.3" stroke-linejoin="miter"/><path d="M922.2 182.8L935.2 191L922.2 199.2Z" fill="#fff" stroke="#c24ec2" stroke-width="1.3" stroke-linejoin="miter"/><path d="M935.5 190.4L948.5 198.6L935.5 206.8Z" fill="#fff" stroke="#c24ec2" stroke-width="1.3" stroke-linejoin="miter"/><path d="M948.9 197.9L961.9 206.1L948.9 214.2Z" fill="#fff" stroke="#c24ec2" stroke-width="1.3" stroke-linejoin="miter"/><path d="M962.2 205.4L975.2 213.6L962.2 221.8Z" fill="#fff" stroke="#c24ec2" stroke-width="1.3" stroke-linejoin="miter"/><path d="M975.6 214.2L988.6 222.4L975.6 230.6Z" fill="#fff" stroke="#c24ec2" stroke-width="1.3" stroke-linejoin="miter"/><path d="M989 223L1002 231.2L989 239.3Z" fill="#fff" stroke="#c24ec2" stroke-width="1.3" stroke-linejoin="miter"/><path d="M1002.3 233.8L1015.3 242L1002.3 250.2Z" fill="#fff" stroke="#c24ec2" stroke-width="1.3" stroke-linejoin="miter"/><path d="M1015.7 245.7L1028.7 253.8L1015.7 261.9Z" fill="#fff" stroke="#c24ec2" stroke-width="1.3" stroke-linejoin="miter"/><path d="M1029 256.9L1042 265L1029 273.1Z" fill="#fff" stroke="#c24ec2" stroke-width="1.3" stroke-linejoin="miter"/><path d="M1042.4 268.2L1055.4 276.3L1042.4 284.4Z" fill="#fff" stroke="#c24ec2" stroke-width="1.3" stroke-linejoin="miter"/><path d="M1055.8 279.4L1068.8 287.5L1055.8 295.6Z" fill="#fff" stroke="#c24ec2" stroke-width="1.3" stroke-linejoin="miter"/>
<rect x="668.5" y="249.8" width="8.2" height="8.2" fill="#fff" stroke="#c04848" stroke-width="1.2"/><rect x="681.9" y="279.1" width="8.2" height="8.2" fill="#fff" stroke="#c04848" stroke-width="1.2"/><rect x="695.2" y="258" width="8.2" height="8.2" fill="#fff" stroke="#c04848" stroke-width="1.2"/><rect x="708.6" y="181.2" width="8.2" height="8.2" fill="#fff" stroke="#c04848" stroke-width="1.2"/><rect x="722" y="183.4" width="8.2" height="8.2" fill="#fff" stroke="#c04848" stroke-width="1.2"/><rect x="735.3" y="173.9" width="8.2" height="8.2" fill="#fff" stroke="#c04848" stroke-width="1.2"/><rect x="748.7" y="171" width="8.2" height="8.2" fill="#fff" stroke="#c04848" stroke-width="1.2"/><rect x="762.1" y="162.5" width="8.2" height="8.2" fill="#fff" stroke="#c04848" stroke-width="1.2"/><rect x="775.4" y="156.7" width="8.2" height="8.2" fill="#fff" stroke="#c04848" stroke-width="1.2"/><rect x="788.8" y="150.8" width="8.2" height="8.2" fill="#fff" stroke="#c04848" stroke-width="1.2"/><rect x="802.1" y="148.5" width="8.2" height="8.2" fill="#fff" stroke="#c04848" stroke-width="1.2"/><rect x="815.5" y="146.1" width="8.2" height="8.2" fill="#fff" stroke="#c04848" stroke-width="1.2"/><rect x="828.9" y="147.3" width="8.2" height="8.2" fill="#fff" stroke="#c04848" stroke-width="1.2"/><rect x="842.2" y="148.5" width="8.2" height="8.2" fill="#fff" stroke="#c04848" stroke-width="1.2"/><rect x="855.6" y="149.4" width="8.2" height="8.2" fill="#fff" stroke="#c04848" stroke-width="1.2"/><rect x="868.9" y="153.4" width="8.2" height="8.2" fill="#fff" stroke="#c04848" stroke-width="1.2"/><rect x="882.3" y="160.9" width="8.2" height="8.2" fill="#fff" stroke="#c04848" stroke-width="1.2"/><rect x="895.7" y="169.4" width="8.2" height="8.2" fill="#fff" stroke="#c04848" stroke-width="1.2"/><rect x="909" y="178.2" width="8.2" height="8.2" fill="#fff" stroke="#c04848" stroke-width="1.2"/><rect x="922.4" y="186.9" width="8.2" height="8.2" fill="#fff" stroke="#c04848" stroke-width="1.2"/><rect x="935.7" y="194.9" width="8.2" height="8.2" fill="#fff" stroke="#c04848" stroke-width="1.2"/><rect x="949.1" y="201.9" width="8.2" height="8.2" fill="#fff" stroke="#c04848" stroke-width="1.2"/><rect x="962.5" y="209.9" width="8.2" height="8.2" fill="#fff" stroke="#c04848" stroke-width="1.2"/><rect x="975.8" y="218.3" width="8.2" height="8.2" fill="#fff" stroke="#c04848" stroke-width="1.2"/><rect x="989.2" y="226.9" width="8.2" height="8.2" fill="#fff" stroke="#c04848" stroke-width="1.2"/><rect x="1002.6" y="238.4" width="8.2" height="8.2" fill="#fff" stroke="#c04848" stroke-width="1.2"/><rect x="1015.9" y="249.7" width="8.2" height="8.2" fill="#fff" stroke="#c04848" stroke-width="1.2"/><rect x="1029.3" y="260.9" width="8.2" height="8.2" fill="#fff" stroke="#c04848" stroke-width="1.2"/><rect x="1042.6" y="272.2" width="8.2" height="8.2" fill="#fff" stroke="#c04848" stroke-width="1.2"/><rect x="1056" y="283.4" width="8.2" height="8.2" fill="#fff" stroke="#c04848" stroke-width="1.2"/>
<circle cx="672.6" cy="349" r="6.2" fill="#fff" stroke="#4ec94e" stroke-width="1.3"/><circle cx="686" cy="347" r="6.2" fill="#fff" stroke="#4ec94e" stroke-width="1.3"/><circle cx="699.3" cy="341.5" r="6.2" fill="#fff" stroke="#4ec94e" stroke-width="1.3"/><circle cx="712.7" cy="313.6" r="6.2" fill="#fff" stroke="#4ec94e" stroke-width="1.3"/><circle cx="726.1" cy="307.8" r="6.2" fill="#fff" stroke="#4ec94e" stroke-width="1.3"/><circle cx="739.4" cy="297.2" r="6.2" fill="#fff" stroke="#4ec94e" stroke-width="1.3"/><circle cx="752.8" cy="289" r="6.2" fill="#fff" stroke="#4ec94e" stroke-width="1.3"/><circle cx="766.2" cy="280.8" r="6.2" fill="#fff" stroke="#4ec94e" stroke-width="1.3"/><circle cx="779.5" cy="272.6" r="6.2" fill="#fff" stroke="#4ec94e" stroke-width="1.3"/><circle cx="792.9" cy="262.1" r="6.2" fill="#fff" stroke="#4ec94e" stroke-width="1.3"/><circle cx="806.2" cy="253.9" r="6.2" fill="#fff" stroke="#4ec94e" stroke-width="1.3"/><circle cx="819.6" cy="245.7" r="6.2" fill="#fff" stroke="#4ec94e" stroke-width="1.3"/><circle cx="833" cy="239.8" r="6.2" fill="#fff" stroke="#4ec94e" stroke-width="1.3"/><circle cx="846.3" cy="235.1" r="6.2" fill="#fff" stroke="#4ec94e" stroke-width="1.3"/><circle cx="859.7" cy="231.2" r="6.2" fill="#fff" stroke="#4ec94e" stroke-width="1.3"/><circle cx="873" cy="228.3" r="6.2" fill="#fff" stroke="#4ec94e" stroke-width="1.3"/><circle cx="886.4" cy="228.3" r="6.2" fill="#fff" stroke="#4ec94e" stroke-width="1.3"/><circle cx="899.8" cy="229.3" r="6.2" fill="#fff" stroke="#4ec94e" stroke-width="1.3"/><circle cx="913.1" cy="231.2" r="6.2" fill="#fff" stroke="#4ec94e" stroke-width="1.3"/><circle cx="926.5" cy="235.1" r="6.2" fill="#fff" stroke="#4ec94e" stroke-width="1.3"/><circle cx="939.8" cy="240.1" r="6.2" fill="#fff" stroke="#4ec94e" stroke-width="1.3"/><circle cx="953.2" cy="245.5" r="6.2" fill="#fff" stroke="#4ec94e" stroke-width="1.3"/><circle cx="966.6" cy="252.5" r="6.2" fill="#fff" stroke="#4ec94e" stroke-width="1.3"/><circle cx="979.9" cy="258.6" r="6.2" fill="#fff" stroke="#4ec94e" stroke-width="1.3"/><circle cx="993.3" cy="266.6" r="6.2" fill="#fff" stroke="#4ec94e" stroke-width="1.3"/><circle cx="1006.7" cy="277" r="6.2" fill="#fff" stroke="#4ec94e" stroke-width="1.3"/><circle cx="1020" cy="284.8" r="6.2" fill="#fff" stroke="#4ec94e" stroke-width="1.3"/><circle cx="1033.4" cy="293.8" r="6.2" fill="#fff" stroke="#4ec94e" stroke-width="1.3"/><circle cx="1046.7" cy="303.2" r="6.2" fill="#fff" stroke="#4ec94e" stroke-width="1.3"/><circle cx="1060.1" cy="315.4" r="6.2" fill="#fff" stroke="#4ec94e" stroke-width="1.3"/>
<path d="M648.4 537.5 L650.5 535.6 L653.2 533.1 L656.4 530.1 L660 526.8 L663.8 523.2 L667.7 519.7 L671.5 516.4 L675 513.3 L678.3 510.5 L681.7 507.8 L685.1 505.2 L688.4 502.7 L691.8 500.1 L695.2 497.4 L698.5 494.6 L701.9 491.7 L705.3 488.6 L708.6 485.2 L712 481.8 L715.4 478.2 L718.8 474.7 L722.2 471.3 L725.5 467.9 L728.9 464.8 L732.3 461.8 L735.6 459 L739 456.3 L742.4 453.7 L745.7 451.1 L749.1 448.5 L752.4 445.9 L755.8 443.2 L759.2 440.5 L762.5 437.9 L765.9 435.2 L769.3 432.6 L772.7 429.9 L776.1 427.2 L779.4 424.4 L782.8 421.6 L786.2 418.7 L789.5 415.7 L792.9 412.7 L796.2 409.7 L799.6 406.6 L803 403.5 L806.3 400.4 L809.7 397.4 L813.1 394.3 L816.5 391.2 L820 388.1 L823.4 384.9 L826.8 381.8 L830.2 378.8 L833.5 375.9 L836.7 373.1 L839.8 370.4 L842.8 367.8 L845.7 365.3 L848.5 362.9 L851.4 360.6 L854.2 358.3 L857.1 356.1 L860 354 L862.9 352 L865.8 350 L868.8 348.1 L871.7 346.4 L874.6 344.6 L877.7 343 L880.7 341.4 L883.9 339.9 L887.1 338.4 L890.2 337 L893.3 335.6 L896.6 334.3 L899.9 333.1 L903.5 332 L907.3 331.1 L911.4 330.3 L915.8 329.7 L920.4 329.4 L925.3 329.2 L930.3 329.1 L935.6 329.1 L941.1 329.1 L946.8 329 L952.7 328.9 L958.9 328.7 L965.5 328.5 L972.4 328.3 L979.5 328.1 L986.7 327.9 L993.8 327.8 L1000.9 327.6 L1007.8 327.5 L1014.9 327.4 L1022.5 327.4 L1030.2 327.4 L1037.8 327.4 L1045 327.4 L1051.5 327.5 L1056.9 327.5 L1061 327.5" stroke="#3fd7d7" stroke-width="1.25" fill="none" stroke-linejoin="round"/>
<path d="M648.4 550.3 L649.8 549.1 L651.6 547.5 L653.7 545.6 L656.2 543.5 L658.7 541.2 L661.3 539 L663.8 536.8 L666.2 534.8 L668.5 532.9 L670.7 531.1 L673 529.3 L675.3 527.4 L677.6 525.6 L679.9 523.8 L682.2 522 L684.5 520.2 L686.8 518.4 L689.1 516.5 L691.5 514.6 L693.8 512.7 L696.1 510.9 L698.4 509 L700.6 507.3 L702.7 505.6 L704.8 504 L706.8 502.5 L708.8 501 L710.7 499.5 L712.6 498.1 L714.4 496.8 L716.2 495.4 L718 494 L719.7 492.6 L721.3 491.3 L722.9 490 L724.4 488.6 L725.9 487.4 L727.5 486.1 L729.2 484.8 L731 483.5 L733 482.2 L735 480.9 L737.2 479.7 L739.4 478.4 L741.7 477.2 L743.9 475.9 L746.1 474.7 L748.3 473.5 L750.4 472.3 L752.5 471.2 L754.6 470.1 L756.6 468.9 L758.7 467.8 L760.8 466.7 L762.9 465.6 L765 464.5 L767.2 463.4 L769.5 462.2 L771.8 461 L774.1 459.9 L776.4 458.7 L778.6 457.6 L780.8 456.4 L782.8 455.3 L784.7 454.2 L786.5 453.1 L788.1 452.1 L789.8 451 L791.4 449.9 L792.9 448.8 L794.6 447.7 L796.2 446.5 L797.9 445.2 L799.6 443.9 L801.3 442.6 L802.9 441.2 L804.6 439.8 L806.3 438.4 L808 437 L809.7 435.6 L811.3 434.3 L812.8 433.1 L814.3 431.9 L815.8 430.7 L817.3 429.3 L819.1 427.9 L821 426.2 L823.2 424.3 L825.7 422 L828.6 419.5 L831.6 416.7 L834.8 413.7 L838 410.7 L841.3 407.8 L844.5 404.9 L847.5 402.2 L850.4 399.7 L853.1 397.3 L855.8 394.9 L858.5 392.6 L861.3 390.3 L864.1 388 L867 385.5 L870 383 L873.1 380.4 L876.2 377.8 L879.4 375.2 L882.7 372.5 L886.1 369.7 L889.7 366.8 L893.6 363.8 L897.7 360.6 L902.2 357.1 L907.1 353.3 L912.2 349.2 L917.5 345.1 L922.9 341 L928.4 337.1 L933.7 333.5 L939 330.3 L944.3 327.5 L949.6 324.9 L955.1 322.5 L960.5 320.4 L965.8 318.4 L970.9 316.7 L975.8 315.1 L980.3 313.8 L984.4 312.7 L988.1 311.9 L991.6 311.4 L994.9 311 L998.1 310.8 L1001.2 310.7 L1004.5 310.6 L1007.8 310.5 L1011.2 310.4 L1014.7 310.4 L1018.2 310.5 L1021.7 310.6 L1025.1 310.9 L1028.6 311.3 L1031.9 311.8 L1035.3 312.4 L1038.8 313.3 L1042.5 314.5 L1046.2 315.9 L1049.9 317.3 L1053.3 318.8 L1056.4 320.1 L1059 321.2 L1061 322" stroke="#33337a" stroke-width="1.25" fill="none" stroke-linejoin="round"/>
<path d="M648.4 377 L650.5 375 L653.2 372.2 L656.5 368.9 L660.1 365.2 L664 361.5 L667.8 357.7 L671.6 354.1 L675 351 L678.1 348.3 L681 345.9 L683.8 343.6 L686.7 341.4 L689.6 339.1 L692.7 336.7 L696.2 334 L700 331 L704.3 327.5 L708.9 323.7 L713.9 319.6 L719.1 315.4 L724.3 311.1 L729.6 306.9 L734.9 302.8 L740 299 L745.1 295.4 L750.3 291.9 L755.6 288.4 L760.9 285.1 L766 281.8 L771 278.7 L775.7 275.8 L780 273 L783.9 270.4 L787.5 268 L790.7 265.8 L793.8 263.7 L796.8 261.7 L799.8 259.8 L802.8 257.9 L806 256 L809.3 254.2 L812.7 252.4 L816.1 250.7 L819.4 249 L822.8 247.4 L826.2 245.9 L829.6 244.4 L833 243 L836.4 241.6 L839.8 240.4 L843.1 239.1 L846.5 237.9 L849.9 236.8 L853.2 235.8 L856.6 234.9 L860 234 L863.4 233.2 L866.8 232.5 L870.2 231.9 L873.6 231.4 L876.9 230.9 L880.3 230.5 L883.7 230.2 L887 230 L890.3 229.9 L893.5 229.8 L896.8 229.9 L900 230 L903.2 230.2 L906.5 230.4 L909.7 230.7 L913 231 L916.3 231.3 L919.7 231.6 L923.1 231.9 L926.4 232.3 L929.8 232.8 L933.2 233.4 L936.6 234.1 L940 235 L943.4 236.1 L946.8 237.4 L950.3 238.8 L953.8 240.3 L957.2 241.9 L960.5 243.6 L963.8 245.3 L967 247 L970.1 248.7 L973.1 250.5 L976 252.4 L978.9 254.3 L981.8 256.2 L984.6 258.2 L987.3 260.1 L990 262 L992.6 263.9 L995.1 265.8 L997.5 267.7 L999.9 269.6 L1002.3 271.5 L1004.7 273.4 L1007.3 275.2 L1010 277 L1012.9 278.7 L1015.9 280.5 L1019 282.2 L1022.1 283.9 L1025.3 285.5 L1028.6 287.1 L1031.8 288.6 L1035 290 L1038.4 291.4 L1042 292.7 L1045.8 294.1 L1049.6 295.3 L1053.1 296.5 L1056.3 297.5 L1059 298.3 L1061 299" stroke="#3ec63e" stroke-width="1.25" fill="none" stroke-linejoin="round"/>
<path d="M648.4 225.9 L650.1 224 L652.2 221.5 L654.8 218.5 L657.7 215.2 L660.9 211.8 L664.3 208.3 L667.8 204.9 L671.4 201.8 L675.3 198.9 L679.6 195.8 L684.2 192.8 L689 189.9 L693.7 187 L698.3 184.3 L702.7 181.8 L706.6 179.5 L710 177.5 L713 175.8 L715.7 174.4 L718.3 173 L720.9 171.8 L723.6 170.6 L726.6 169.3 L730 168 L733.9 166.6 L738.2 165.2 L742.8 163.8 L747.5 162.4 L752.2 161 L756.9 159.7 L761.2 158.4 L765.2 157.3 L768.8 156.2 L772.1 155.2 L775.2 154.3 L778.2 153.4 L781.1 152.6 L784 151.9 L786.9 151.2 L790 150.5 L793.1 149.9 L796.2 149.3 L799.3 148.8 L802.4 148.3 L805.6 147.9 L808.8 147.6 L812.2 147.4 L815.7 147.3 L819.4 147.3 L823.2 147.5 L827.2 147.7 L831.2 148 L835.3 148.4 L839.3 148.9 L843.4 149.4 L847.3 150 L851.2 150.6 L855.2 151.3 L859.2 152 L863.2 152.8 L867.1 153.7 L870.9 154.7 L874.6 155.8 L878 157 L881.2 158.4 L884.1 159.9 L886.9 161.6 L889.6 163.4 L892.2 165.2 L894.9 167.1 L897.7 169.1 L900.7 171 L903.9 173 L907.2 175.1 L910.6 177.2 L914.1 179.4 L917.6 181.6 L921.1 183.8 L924.6 185.9 L928 188 L931.4 190 L934.8 192 L938.2 194 L941.6 195.9 L945 197.9 L948.3 199.9 L951.7 201.9 L955 204 L958.3 206.1 L961.5 208.3 L964.7 210.5 L967.8 212.8 L971 215 L974.2 217.3 L977.4 219.6 L980.7 222 L984 224.4 L987.4 226.9 L990.8 229.4 L994.3 231.9 L997.7 234.4 L1001.2 237 L1004.6 239.5 L1008 242 L1011.4 244.5 L1014.8 247 L1018.2 249.5 L1021.6 252.1 L1025 254.6 L1028.3 257.1 L1031.7 259.5 L1035 262 L1038.5 264.6 L1042.2 267.3 L1046 270 L1049.7 272.8 L1053.2 275.3 L1056.4 277.6 L1059 279.5 L1061 281" stroke="#cc33cc" stroke-width="1.25" fill="none" stroke-linejoin="round"/>
</g>
</g>
<g stroke="#000" stroke-width="2" fill="none"><line x1="129.8" y1="26.7" x2="129.8" y2="39.2"/><line x1="129.8" y1="710.1" x2="129.8" y2="722.6"/><line x1="154.6" y1="26.7" x2="154.6" y2="33.5"/><line x1="154.6" y1="710.1" x2="154.6" y2="716.9"/><line x1="169.11" y1="26.7" x2="169.11" y2="33.5"/><line x1="169.11" y1="710.1" x2="169.11" y2="716.9"/><line x1="179.41" y1="26.7" x2="179.41" y2="33.5"/><line x1="179.41" y1="710.1" x2="179.41" y2="716.9"/><line x1="187.4" y1="26.7" x2="187.4" y2="33.5"/><line x1="187.4" y1="710.1" x2="187.4" y2="716.9"/><line x1="193.92" y1="26.7" x2="193.92" y2="33.5"/><line x1="193.92" y1="710.1" x2="193.92" y2="716.9"/><line x1="199.44" y1="26.7" x2="199.44" y2="33.5"/><line x1="199.44" y1="710.1" x2="199.44" y2="716.9"/><line x1="204.21" y1="26.7" x2="204.21" y2="33.5"/><line x1="204.21" y1="710.1" x2="204.21" y2="716.9"/><line x1="208.43" y1="26.7" x2="208.43" y2="33.5"/><line x1="208.43" y1="710.1" x2="208.43" y2="716.9"/><line x1="212.2" y1="26.7" x2="212.2" y2="39.2"/><line x1="212.2" y1="710.1" x2="212.2" y2="722.6"/><line x1="237" y1="26.7" x2="237" y2="33.5"/><line x1="237" y1="710.1" x2="237" y2="716.9"/><line x1="251.51" y1="26.7" x2="251.51" y2="33.5"/><line x1="251.51" y1="710.1" x2="251.51" y2="716.9"/><line x1="261.81" y1="26.7" x2="261.81" y2="33.5"/><line x1="261.81" y1="710.1" x2="261.81" y2="716.9"/><line x1="269.8" y1="26.7" x2="269.8" y2="33.5"/><line x1="269.8" y1="710.1" x2="269.8" y2="716.9"/><line x1="276.32" y1="26.7" x2="276.32" y2="33.5"/><line x1="276.32" y1="710.1" x2="276.32" y2="716.9"/><line x1="281.84" y1="26.7" x2="281.84" y2="33.5"/><line x1="281.84" y1="710.1" x2="281.84" y2="716.9"/><line x1="286.61" y1="26.7" x2="286.61" y2="33.5"/><line x1="286.61" y1="710.1" x2="286.61" y2="716.9"/><line x1="290.83" y1="26.7" x2="290.83" y2="33.5"/><line x1="290.83" y1="710.1" x2="290.83" y2="716.9"/><line x1="294.6" y1="26.7" x2="294.6" y2="39.2"/><line x1="294.6" y1="710.1" x2="294.6" y2="722.6"/><line x1="319.4" y1="26.7" x2="319.4" y2="33.5"/><line x1="319.4" y1="710.1" x2="319.4" y2="716.9"/><line x1="333.91" y1="26.7" x2="333.91" y2="33.5"/><line x1="333.91" y1="710.1" x2="333.91" y2="716.9"/><line x1="344.21" y1="26.7" x2="344.21" y2="33.5"/><line x1="344.21" y1="710.1" x2="344.21" y2="716.9"/><line x1="352.2" y1="26.7" x2="352.2" y2="33.5"/><line x1="352.2" y1="710.1" x2="352.2" y2="716.9"/><line x1="358.72" y1="26.7" x2="358.72" y2="33.5"/><line x1="358.72" y1="710.1" x2="358.72" y2="716.9"/><line x1="364.24" y1="26.7" x2="364.24" y2="33.5"/><line x1="364.24" y1="710.1" x2="364.24" y2="716.9"/><line x1="369.01" y1="26.7" x2="369.01" y2="33.5"/><line x1="369.01" y1="710.1" x2="369.01" y2="716.9"/><line x1="373.23" y1="26.7" x2="373.23" y2="33.5"/><line x1="373.23" y1="710.1" x2="373.23" y2="716.9"/><line x1="377" y1="26.7" x2="377" y2="39.2"/><line x1="377" y1="710.1" x2="377" y2="722.6"/><line x1="401.8" y1="26.7" x2="401.8" y2="33.5"/><line x1="401.8" y1="710.1" x2="401.8" y2="716.9"/><line x1="416.31" y1="26.7" x2="416.31" y2="33.5"/><line x1="416.31" y1="710.1" x2="416.31" y2="716.9"/><line x1="426.61" y1="26.7" x2="426.61" y2="33.5"/><line x1="426.61" y1="710.1" x2="426.61" y2="716.9"/><line x1="434.6" y1="26.7" x2="434.6" y2="33.5"/><line x1="434.6" y1="710.1" x2="434.6" y2="716.9"/><line x1="441.12" y1="26.7" x2="441.12" y2="33.5"/><line x1="441.12" y1="710.1" x2="441.12" y2="716.9"/><line x1="446.64" y1="26.7" x2="446.64" y2="33.5"/><line x1="446.64" y1="710.1" x2="446.64" y2="716.9"/><line x1="451.41" y1="26.7" x2="451.41" y2="33.5"/><line x1="451.41" y1="710.1" x2="451.41" y2="716.9"/><line x1="455.63" y1="26.7" x2="455.63" y2="33.5"/><line x1="455.63" y1="710.1" x2="455.63" y2="716.9"/><line x1="459.4" y1="26.7" x2="459.4" y2="39.2"/><line x1="459.4" y1="710.1" x2="459.4" y2="722.6"/><line x1="484.2" y1="26.7" x2="484.2" y2="33.5"/><line x1="484.2" y1="710.1" x2="484.2" y2="716.9"/><line x1="498.71" y1="26.7" x2="498.71" y2="33.5"/><line x1="498.71" y1="710.1" x2="498.71" y2="716.9"/><line x1="509.01" y1="26.7" x2="509.01" y2="33.5"/><line x1="509.01" y1="710.1" x2="509.01" y2="716.9"/><line x1="517" y1="26.7" x2="517" y2="33.5"/><line x1="517" y1="710.1" x2="517" y2="716.9"/><line x1="523.52" y1="26.7" x2="523.52" y2="33.5"/><line x1="523.52" y1="710.1" x2="523.52" y2="716.9"/><line x1="529.04" y1="26.7" x2="529.04" y2="33.5"/><line x1="529.04" y1="710.1" x2="529.04" y2="716.9"/><line x1="533.81" y1="26.7" x2="533.81" y2="33.5"/><line x1="533.81" y1="710.1" x2="533.81" y2="716.9"/><line x1="538.03" y1="26.7" x2="538.03" y2="33.5"/><line x1="538.03" y1="710.1" x2="538.03" y2="716.9"/><line x1="541.8" y1="26.7" x2="541.8" y2="39.2"/><line x1="541.8" y1="710.1" x2="541.8" y2="722.6"/><line x1="129.8" y1="710.1" x2="142.3" y2="710.1"/><line x1="541.8" y1="710.1" x2="529.3" y2="710.1"/><line x1="129.8" y1="675.81" x2="136.6" y2="675.81"/><line x1="541.8" y1="675.81" x2="535" y2="675.81"/><line x1="129.8" y1="655.76" x2="136.6" y2="655.76"/><line x1="541.8" y1="655.76" x2="535" y2="655.76"/><line x1="129.8" y1="641.53" x2="136.6" y2="641.53"/><line x1="541.8" y1="641.53" x2="535" y2="641.53"/><line x1="129.8" y1="630.49" x2="136.6" y2="630.49"/><line x1="541.8" y1="630.49" x2="535" y2="630.49"/><line x1="129.8" y1="621.47" x2="136.6" y2="621.47"/><line x1="541.8" y1="621.47" x2="535" y2="621.47"/><line x1="129.8" y1="613.84" x2="136.6" y2="613.84"/><line x1="541.8" y1="613.84" x2="535" y2="613.84"/><line x1="129.8" y1="607.24" x2="136.6" y2="607.24"/><line x1="541.8" y1="607.24" x2="535" y2="607.24"/><line x1="129.8" y1="601.41" x2="136.6" y2="601.41"/><line x1="541.8" y1="601.41" x2="535" y2="601.41"/><line x1="129.8" y1="596.2" x2="142.3" y2="596.2"/><line x1="541.8" y1="596.2" x2="529.3" y2="596.2"/><line x1="129.8" y1="561.91" x2="136.6" y2="561.91"/><line x1="541.8" y1="561.91" x2="535" y2="561.91"/><line x1="129.8" y1="541.86" x2="136.6" y2="541.86"/><line x1="541.8" y1="541.86" x2="535" y2="541.86"/><line x1="129.8" y1="527.63" x2="136.6" y2="527.63"/><line x1="541.8" y1="527.63" x2="535" y2="527.63"/><line x1="129.8" y1="516.59" x2="136.6" y2="516.59"/><line x1="541.8" y1="516.59" x2="535" y2="516.59"/><line x1="129.8" y1="507.57" x2="136.6" y2="507.57"/><line x1="541.8" y1="507.57" x2="535" y2="507.57"/><line x1="129.8" y1="499.94" x2="136.6" y2="499.94"/><line x1="541.8" y1="499.94" x2="535" y2="499.94"/><line x1="129.8" y1="493.34" x2="136.6" y2="493.34"/><line x1="541.8" y1="493.34" x2="535" y2="493.34"/><line x1="129.8" y1="487.51" x2="136.6" y2="487.51"/><line x1="541.8" y1="487.51" x2="535" y2="487.51"/><line x1="129.8" y1="482.3" x2="142.3" y2="482.3"/><line x1="541.8" y1="482.3" x2="529.3" y2="482.3"/><line x1="129.8" y1="448.01" x2="136.6" y2="448.01"/><line x1="541.8" y1="448.01" x2="535" y2="448.01"/><line x1="129.8" y1="427.96" x2="136.6" y2="427.96"/><line x1="541.8" y1="427.96" x2="535" y2="427.96"/><line x1="129.8" y1="413.73" x2="136.6" y2="413.73"/><line x1="541.8" y1="413.73" x2="535" y2="413.73"/><line x1="129.8" y1="402.69" x2="136.6" y2="402.69"/><line x1="541.8" y1="402.69" x2="535" y2="402.69"/><line x1="129.8" y1="393.67" x2="136.6" y2="393.67"/><line x1="541.8" y1="393.67" x2="535" y2="393.67"/><line x1="129.8" y1="386.04" x2="136.6" y2="386.04"/><line x1="541.8" y1="386.04" x2="535" y2="386.04"/><line x1="129.8" y1="379.44" x2="136.6" y2="379.44"/><line x1="541.8" y1="379.44" x2="535" y2="379.44"/><line x1="129.8" y1="373.61" x2="136.6" y2="373.61"/><line x1="541.8" y1="373.61" x2="535" y2="373.61"/><line x1="129.8" y1="368.4" x2="142.3" y2="368.4"/><line x1="541.8" y1="368.4" x2="529.3" y2="368.4"/><line x1="129.8" y1="334.11" x2="136.6" y2="334.11"/><line x1="541.8" y1="334.11" x2="535" y2="334.11"/><line x1="129.8" y1="314.06" x2="136.6" y2="314.06"/><line x1="541.8" y1="314.06" x2="535" y2="314.06"/><line x1="129.8" y1="299.83" x2="136.6" y2="299.83"/><line x1="541.8" y1="299.83" x2="535" y2="299.83"/><line x1="129.8" y1="288.79" x2="136.6" y2="288.79"/><line x1="541.8" y1="288.79" x2="535" y2="288.79"/><line x1="129.8" y1="279.77" x2="136.6" y2="279.77"/><line x1="541.8" y1="279.77" x2="535" y2="279.77"/><line x1="129.8" y1="272.14" x2="136.6" y2="272.14"/><line x1="541.8" y1="272.14" x2="535" y2="272.14"/><line x1="129.8" y1="265.54" x2="136.6" y2="265.54"/><line x1="541.8" y1="265.54" x2="535" y2="265.54"/><line x1="129.8" y1="259.71" x2="136.6" y2="259.71"/><line x1="541.8" y1="259.71" x2="535" y2="259.71"/><line x1="129.8" y1="254.5" x2="142.3" y2="254.5"/><line x1="541.8" y1="254.5" x2="529.3" y2="254.5"/><line x1="129.8" y1="220.21" x2="136.6" y2="220.21"/><line x1="541.8" y1="220.21" x2="535" y2="220.21"/><line x1="129.8" y1="200.16" x2="136.6" y2="200.16"/><line x1="541.8" y1="200.16" x2="535" y2="200.16"/><line x1="129.8" y1="185.93" x2="136.6" y2="185.93"/><line x1="541.8" y1="185.93" x2="535" y2="185.93"/><line x1="129.8" y1="174.89" x2="136.6" y2="174.89"/><line x1="541.8" y1="174.89" x2="535" y2="174.89"/><line x1="129.8" y1="165.87" x2="136.6" y2="165.87"/><line x1="541.8" y1="165.87" x2="535" y2="165.87"/><line x1="129.8" y1="158.24" x2="136.6" y2="158.24"/><line x1="541.8" y1="158.24" x2="535" y2="158.24"/><line x1="129.8" y1="151.64" x2="136.6" y2="151.64"/><line x1="541.8" y1="151.64" x2="535" y2="151.64"/><line x1="129.8" y1="145.81" x2="136.6" y2="145.81"/><line x1="541.8" y1="145.81" x2="535" y2="145.81"/><line x1="129.8" y1="140.6" x2="142.3" y2="140.6"/><line x1="541.8" y1="140.6" x2="529.3" y2="140.6"/><line x1="129.8" y1="106.31" x2="136.6" y2="106.31"/><line x1="541.8" y1="106.31" x2="535" y2="106.31"/><line x1="129.8" y1="86.26" x2="136.6" y2="86.26"/><line x1="541.8" y1="86.26" x2="535" y2="86.26"/><line x1="129.8" y1="72.03" x2="136.6" y2="72.03"/><line x1="541.8" y1="72.03" x2="535" y2="72.03"/><line x1="129.8" y1="60.99" x2="136.6" y2="60.99"/><line x1="541.8" y1="60.99" x2="535" y2="60.99"/><line x1="129.8" y1="51.97" x2="136.6" y2="51.97"/><line x1="541.8" y1="51.97" x2="535" y2="51.97"/><line x1="129.8" y1="44.34" x2="136.6" y2="44.34"/><line x1="541.8" y1="44.34" x2="535" y2="44.34"/><line x1="129.8" y1="37.74" x2="136.6" y2="37.74"/><line x1="541.8" y1="37.74" x2="535" y2="37.74"/><line x1="129.8" y1="31.91" x2="136.6" y2="31.91"/><line x1="541.8" y1="31.91" x2="535" y2="31.91"/><line x1="129.8" y1="26.7" x2="142.3" y2="26.7"/><line x1="541.8" y1="26.7" x2="529.3" y2="26.7"/></g>
<rect x="129.8" y="26.7" width="412" height="683.4" fill="none" stroke="#000" stroke-width="2.2"/>
<g stroke="#000" stroke-width="2" fill="none"><line x1="648.4" y1="33.08" x2="648.4" y2="45.58"/><line x1="648.4" y1="716.9" x2="648.4" y2="704.4"/><line x1="673.22" y1="33.08" x2="673.22" y2="39.88"/><line x1="673.22" y1="716.9" x2="673.22" y2="710.1"/><line x1="687.74" y1="33.08" x2="687.74" y2="39.88"/><line x1="687.74" y1="716.9" x2="687.74" y2="710.1"/><line x1="698.05" y1="33.08" x2="698.05" y2="39.88"/><line x1="698.05" y1="716.9" x2="698.05" y2="710.1"/><line x1="706.04" y1="33.08" x2="706.04" y2="39.88"/><line x1="706.04" y1="716.9" x2="706.04" y2="710.1"/><line x1="712.57" y1="33.08" x2="712.57" y2="39.88"/><line x1="712.57" y1="716.9" x2="712.57" y2="710.1"/><line x1="718.09" y1="33.08" x2="718.09" y2="39.88"/><line x1="718.09" y1="716.9" x2="718.09" y2="710.1"/><line x1="722.87" y1="33.08" x2="722.87" y2="39.88"/><line x1="722.87" y1="716.9" x2="722.87" y2="710.1"/><line x1="727.09" y1="33.08" x2="727.09" y2="39.88"/><line x1="727.09" y1="716.9" x2="727.09" y2="710.1"/><line x1="730.86" y1="33.08" x2="730.86" y2="45.58"/><line x1="730.86" y1="716.9" x2="730.86" y2="704.4"/><line x1="755.68" y1="33.08" x2="755.68" y2="39.88"/><line x1="755.68" y1="716.9" x2="755.68" y2="710.1"/><line x1="770.2" y1="33.08" x2="770.2" y2="39.88"/><line x1="770.2" y1="716.9" x2="770.2" y2="710.1"/><line x1="780.51" y1="33.08" x2="780.51" y2="39.88"/><line x1="780.51" y1="716.9" x2="780.51" y2="710.1"/><line x1="788.5" y1="33.08" x2="788.5" y2="39.88"/><line x1="788.5" y1="716.9" x2="788.5" y2="710.1"/><line x1="795.03" y1="33.08" x2="795.03" y2="39.88"/><line x1="795.03" y1="716.9" x2="795.03" y2="710.1"/><line x1="800.55" y1="33.08" x2="800.55" y2="39.88"/><line x1="800.55" y1="716.9" x2="800.55" y2="710.1"/><line x1="805.33" y1="33.08" x2="805.33" y2="39.88"/><line x1="805.33" y1="716.9" x2="805.33" y2="710.1"/><line x1="809.55" y1="33.08" x2="809.55" y2="39.88"/><line x1="809.55" y1="716.9" x2="809.55" y2="710.1"/><line x1="813.32" y1="33.08" x2="813.32" y2="45.58"/><line x1="813.32" y1="716.9" x2="813.32" y2="704.4"/><line x1="838.14" y1="33.08" x2="838.14" y2="39.88"/><line x1="838.14" y1="716.9" x2="838.14" y2="710.1"/><line x1="852.66" y1="33.08" x2="852.66" y2="39.88"/><line x1="852.66" y1="716.9" x2="852.66" y2="710.1"/><line x1="862.97" y1="33.08" x2="862.97" y2="39.88"/><line x1="862.97" y1="716.9" x2="862.97" y2="710.1"/><line x1="870.96" y1="33.08" x2="870.96" y2="39.88"/><line x1="870.96" y1="716.9" x2="870.96" y2="710.1"/><line x1="877.49" y1="33.08" x2="877.49" y2="39.88"/><line x1="877.49" y1="716.9" x2="877.49" y2="710.1"/><line x1="883.01" y1="33.08" x2="883.01" y2="39.88"/><line x1="883.01" y1="716.9" x2="883.01" y2="710.1"/><line x1="887.79" y1="33.08" x2="887.79" y2="39.88"/><line x1="887.79" y1="716.9" x2="887.79" y2="710.1"/><line x1="892.01" y1="33.08" x2="892.01" y2="39.88"/><line x1="892.01" y1="716.9" x2="892.01" y2="710.1"/><line x1="895.78" y1="33.08" x2="895.78" y2="45.58"/><line x1="895.78" y1="716.9" x2="895.78" y2="704.4"/><line x1="920.6" y1="33.08" x2="920.6" y2="39.88"/><line x1="920.6" y1="716.9" x2="920.6" y2="710.1"/><line x1="935.12" y1="33.08" x2="935.12" y2="39.88"/><line x1="935.12" y1="716.9" x2="935.12" y2="710.1"/><line x1="945.43" y1="33.08" x2="945.43" y2="39.88"/><line x1="945.43" y1="716.9" x2="945.43" y2="710.1"/><line x1="953.42" y1="33.08" x2="953.42" y2="39.88"/><line x1="953.42" y1="716.9" x2="953.42" y2="710.1"/><line x1="959.95" y1="33.08" x2="959.95" y2="39.88"/><line x1="959.95" y1="716.9" x2="959.95" y2="710.1"/><line x1="965.47" y1="33.08" x2="965.47" y2="39.88"/><line x1="965.47" y1="716.9" x2="965.47" y2="710.1"/><line x1="970.25" y1="33.08" x2="970.25" y2="39.88"/><line x1="970.25" y1="716.9" x2="970.25" y2="710.1"/><line x1="974.47" y1="33.08" x2="974.47" y2="39.88"/><line x1="974.47" y1="716.9" x2="974.47" y2="710.1"/><line x1="978.24" y1="33.08" x2="978.24" y2="45.58"/><line x1="978.24" y1="716.9" x2="978.24" y2="704.4"/><line x1="1003.06" y1="33.08" x2="1003.06" y2="39.88"/><line x1="1003.06" y1="716.9" x2="1003.06" y2="710.1"/><line x1="1017.58" y1="33.08" x2="1017.58" y2="39.88"/><line x1="1017.58" y1="716.9" x2="1017.58" y2="710.1"/><line x1="1027.89" y1="33.08" x2="1027.89" y2="39.88"/><line x1="1027.89" y1="716.9" x2="1027.89" y2="710.1"/><line x1="1035.88" y1="33.08" x2="1035.88" y2="39.88"/><line x1="1035.88" y1="716.9" x2="1035.88" y2="710.1"/><line x1="1042.41" y1="33.08" x2="1042.41" y2="39.88"/><line x1="1042.41" y1="716.9" x2="1042.41" y2="710.1"/><line x1="1047.93" y1="33.08" x2="1047.93" y2="39.88"/><line x1="1047.93" y1="716.9" x2="1047.93" y2="710.1"/><line x1="1052.71" y1="33.08" x2="1052.71" y2="39.88"/><line x1="1052.71" y1="716.9" x2="1052.71" y2="710.1"/><line x1="1056.93" y1="33.08" x2="1056.93" y2="39.88"/><line x1="1056.93" y1="716.9" x2="1056.93" y2="710.1"/><line x1="1060.7" y1="33.08" x2="1060.7" y2="45.58"/><line x1="1060.7" y1="716.9" x2="1060.7" y2="704.4"/><line x1="648.4" y1="716.9" x2="660.9" y2="716.9"/><line x1="1060.7" y1="716.9" x2="1048.2" y2="716.9"/><line x1="648.4" y1="693.45" x2="655.2" y2="693.45"/><line x1="1060.7" y1="693.45" x2="1053.9" y2="693.45"/><line x1="648.4" y1="679.73" x2="655.2" y2="679.73"/><line x1="1060.7" y1="679.73" x2="1053.9" y2="679.73"/><line x1="648.4" y1="670" x2="655.2" y2="670"/><line x1="1060.7" y1="670" x2="1053.9" y2="670"/><line x1="648.4" y1="662.45" x2="655.2" y2="662.45"/><line x1="1060.7" y1="662.45" x2="1053.9" y2="662.45"/><line x1="648.4" y1="656.28" x2="655.2" y2="656.28"/><line x1="1060.7" y1="656.28" x2="1053.9" y2="656.28"/><line x1="648.4" y1="651.07" x2="655.2" y2="651.07"/><line x1="1060.7" y1="651.07" x2="1053.9" y2="651.07"/><line x1="648.4" y1="646.55" x2="655.2" y2="646.55"/><line x1="1060.7" y1="646.55" x2="1053.9" y2="646.55"/><line x1="648.4" y1="642.56" x2="655.2" y2="642.56"/><line x1="1060.7" y1="642.56" x2="1053.9" y2="642.56"/><line x1="648.4" y1="639" x2="660.9" y2="639"/><line x1="1060.7" y1="639" x2="1048.2" y2="639"/><line x1="648.4" y1="615.55" x2="655.2" y2="615.55"/><line x1="1060.7" y1="615.55" x2="1053.9" y2="615.55"/><line x1="648.4" y1="601.83" x2="655.2" y2="601.83"/><line x1="1060.7" y1="601.83" x2="1053.9" y2="601.83"/><line x1="648.4" y1="592.1" x2="655.2" y2="592.1"/><line x1="1060.7" y1="592.1" x2="1053.9" y2="592.1"/><line x1="648.4" y1="584.55" x2="655.2" y2="584.55"/><line x1="1060.7" y1="584.55" x2="1053.9" y2="584.55"/><line x1="648.4" y1="578.38" x2="655.2" y2="578.38"/><line x1="1060.7" y1="578.38" x2="1053.9" y2="578.38"/><line x1="648.4" y1="573.17" x2="655.2" y2="573.17"/><line x1="1060.7" y1="573.17" x2="1053.9" y2="573.17"/><line x1="648.4" y1="568.65" x2="655.2" y2="568.65"/><line x1="1060.7" y1="568.65" x2="1053.9" y2="568.65"/><line x1="648.4" y1="564.66" x2="655.2" y2="564.66"/><line x1="1060.7" y1="564.66" x2="1053.9" y2="564.66"/><line x1="648.4" y1="561.1" x2="660.9" y2="561.1"/><line x1="1060.7" y1="561.1" x2="1048.2" y2="561.1"/><line x1="648.4" y1="537.65" x2="655.2" y2="537.65"/><line x1="1060.7" y1="537.65" x2="1053.9" y2="537.65"/><line x1="648.4" y1="523.93" x2="655.2" y2="523.93"/><line x1="1060.7" y1="523.93" x2="1053.9" y2="523.93"/><line x1="648.4" y1="514.2" x2="655.2" y2="514.2"/><line x1="1060.7" y1="514.2" x2="1053.9" y2="514.2"/><line x1="648.4" y1="506.65" x2="655.2" y2="506.65"/><line x1="1060.7" y1="506.65" x2="1053.9" y2="506.65"/><line x1="648.4" y1="500.48" x2="655.2" y2="500.48"/><line x1="1060.7" y1="500.48" x2="1053.9" y2="500.48"/><line x1="648.4" y1="495.27" x2="655.2" y2="495.27"/><line x1="1060.7" y1="495.27" x2="1053.9" y2="495.27"/><line x1="648.4" y1="490.75" x2="655.2" y2="490.75"/><line x1="1060.7" y1="490.75" x2="1053.9" y2="490.75"/><line x1="648.4" y1="486.76" x2="655.2" y2="486.76"/><line x1="1060.7" y1="486.76" x2="1053.9" y2="486.76"/><line x1="648.4" y1="483.2" x2="660.9" y2="483.2"/><line x1="1060.7" y1="483.2" x2="1048.2" y2="483.2"/><line x1="648.4" y1="459.75" x2="655.2" y2="459.75"/><line x1="1060.7" y1="459.75" x2="1053.9" y2="459.75"/><line x1="648.4" y1="446.03" x2="655.2" y2="446.03"/><line x1="1060.7" y1="446.03" x2="1053.9" y2="446.03"/><line x1="648.4" y1="436.3" x2="655.2" y2="436.3"/><line x1="1060.7" y1="436.3" x2="1053.9" y2="436.3"/><line x1="648.4" y1="428.75" x2="655.2" y2="428.75"/><line x1="1060.7" y1="428.75" x2="1053.9" y2="428.75"/><line x1="648.4" y1="422.58" x2="655.2" y2="422.58"/><line x1="1060.7" y1="422.58" x2="1053.9" y2="422.58"/><line x1="648.4" y1="417.37" x2="655.2" y2="417.37"/><line x1="1060.7" y1="417.37" x2="1053.9" y2="417.37"/><line x1="648.4" y1="412.85" x2="655.2" y2="412.85"/><line x1="1060.7" y1="412.85" x2="1053.9" y2="412.85"/><line x1="648.4" y1="408.86" x2="655.2" y2="408.86"/><line x1="1060.7" y1="408.86" x2="1053.9" y2="408.86"/><line x1="648.4" y1="405.3" x2="660.9" y2="405.3"/><line x1="1060.7" y1="405.3" x2="1048.2" y2="405.3"/><line x1="648.4" y1="381.85" x2="655.2" y2="381.85"/><line x1="1060.7" y1="381.85" x2="1053.9" y2="381.85"/><line x1="648.4" y1="368.13" x2="655.2" y2="368.13"/><line x1="1060.7" y1="368.13" x2="1053.9" y2="368.13"/><line x1="648.4" y1="358.4" x2="655.2" y2="358.4"/><line x1="1060.7" y1="358.4" x2="1053.9" y2="358.4"/><line x1="648.4" y1="350.85" x2="655.2" y2="350.85"/><line x1="1060.7" y1="350.85" x2="1053.9" y2="350.85"/><line x1="648.4" y1="344.68" x2="655.2" y2="344.68"/><line x1="1060.7" y1="344.68" x2="1053.9" y2="344.68"/><line x1="648.4" y1="339.47" x2="655.2" y2="339.47"/><line x1="1060.7" y1="339.47" x2="1053.9" y2="339.47"/><line x1="648.4" y1="334.95" x2="655.2" y2="334.95"/><line x1="1060.7" y1="334.95" x2="1053.9" y2="334.95"/><line x1="648.4" y1="330.96" x2="655.2" y2="330.96"/><line x1="1060.7" y1="330.96" x2="1053.9" y2="330.96"/><line x1="648.4" y1="327.4" x2="660.9" y2="327.4"/><line x1="1060.7" y1="327.4" x2="1048.2" y2="327.4"/><line x1="648.4" y1="303.95" x2="655.2" y2="303.95"/><line x1="1060.7" y1="303.95" x2="1053.9" y2="303.95"/><line x1="648.4" y1="290.23" x2="655.2" y2="290.23"/><line x1="1060.7" y1="290.23" x2="1053.9" y2="290.23"/><line x1="648.4" y1="280.5" x2="655.2" y2="280.5"/><line x1="1060.7" y1="280.5" x2="1053.9" y2="280.5"/><line x1="648.4" y1="272.95" x2="655.2" y2="272.95"/><line x1="1060.7" y1="272.95" x2="1053.9" y2="272.95"/><line x1="648.4" y1="266.78" x2="655.2" y2="266.78"/><line x1="1060.7" y1="266.78" x2="1053.9" y2="266.78"/><line x1="648.4" y1="261.57" x2="655.2" y2="261.57"/><line x1="1060.7" y1="261.57" x2="1053.9" y2="261.57"/><line x1="648.4" y1="257.05" x2="655.2" y2="257.05"/><line x1="1060.7" y1="257.05" x2="1053.9" y2="257.05"/><line x1="648.4" y1="253.06" x2="655.2" y2="253.06"/><line x1="1060.7" y1="253.06" x2="1053.9" y2="253.06"/><line x1="648.4" y1="249.5" x2="660.9" y2="249.5"/><line x1="1060.7" y1="249.5" x2="1048.2" y2="249.5"/><line x1="648.4" y1="226.05" x2="655.2" y2="226.05"/><line x1="1060.7" y1="226.05" x2="1053.9" y2="226.05"/><line x1="648.4" y1="212.33" x2="655.2" y2="212.33"/><line x1="1060.7" y1="212.33" x2="1053.9" y2="212.33"/><line x1="648.4" y1="202.6" x2="655.2" y2="202.6"/><line x1="1060.7" y1="202.6" x2="1053.9" y2="202.6"/><line x1="648.4" y1="195.05" x2="655.2" y2="195.05"/><line x1="1060.7" y1="195.05" x2="1053.9" y2="195.05"/><line x1="648.4" y1="188.88" x2="655.2" y2="188.88"/><line x1="1060.7" y1="188.88" x2="1053.9" y2="188.88"/><line x1="648.4" y1="183.67" x2="655.2" y2="183.67"/><line x1="1060.7" y1="183.67" x2="1053.9" y2="183.67"/><line x1="648.4" y1="179.15" x2="655.2" y2="179.15"/><line x1="1060.7" y1="179.15" x2="1053.9" y2="179.15"/><line x1="648.4" y1="175.16" x2="655.2" y2="175.16"/><line x1="1060.7" y1="175.16" x2="1053.9" y2="175.16"/><line x1="648.4" y1="171.6" x2="660.9" y2="171.6"/><line x1="1060.7" y1="171.6" x2="1048.2" y2="171.6"/><line x1="648.4" y1="148.15" x2="655.2" y2="148.15"/><line x1="1060.7" y1="148.15" x2="1053.9" y2="148.15"/><line x1="648.4" y1="134.43" x2="655.2" y2="134.43"/><line x1="1060.7" y1="134.43" x2="1053.9" y2="134.43"/><line x1="648.4" y1="124.7" x2="655.2" y2="124.7"/><line x1="1060.7" y1="124.7" x2="1053.9" y2="124.7"/><line x1="648.4" y1="117.15" x2="655.2" y2="117.15"/><line x1="1060.7" y1="117.15" x2="1053.9" y2="117.15"/><line x1="648.4" y1="110.98" x2="655.2" y2="110.98"/><line x1="1060.7" y1="110.98" x2="1053.9" y2="110.98"/><line x1="648.4" y1="105.77" x2="655.2" y2="105.77"/><line x1="1060.7" y1="105.77" x2="1053.9" y2="105.77"/><line x1="648.4" y1="101.25" x2="655.2" y2="101.25"/><line x1="1060.7" y1="101.25" x2="1053.9" y2="101.25"/><line x1="648.4" y1="97.26" x2="655.2" y2="97.26"/><line x1="1060.7" y1="97.26" x2="1053.9" y2="97.26"/><line x1="648.4" y1="93.7" x2="660.9" y2="93.7"/><line x1="1060.7" y1="93.7" x2="1048.2" y2="93.7"/><line x1="648.4" y1="70.25" x2="655.2" y2="70.25"/><line x1="1060.7" y1="70.25" x2="1053.9" y2="70.25"/><line x1="648.4" y1="56.53" x2="655.2" y2="56.53"/><line x1="1060.7" y1="56.53" x2="1053.9" y2="56.53"/><line x1="648.4" y1="46.8" x2="655.2" y2="46.8"/><line x1="1060.7" y1="46.8" x2="1053.9" y2="46.8"/><line x1="648.4" y1="39.25" x2="655.2" y2="39.25"/><line x1="1060.7" y1="39.25" x2="1053.9" y2="39.25"/><line x1="648.4" y1="33.08" x2="655.2" y2="33.08"/><line x1="1060.7" y1="33.08" x2="1053.9" y2="33.08"/></g>
<rect x="648.4" y="33.08" width="412.3" height="683.82" fill="none" stroke="#000" stroke-width="2.2"/>
<g font-family="&quot;Liberation Sans&quot;, sans-serif" fill="#000"><text x="114.3" y="721.9" text-anchor="end" font-size="33">10<tspan font-size="19" dy="-16">2</tspan></text><text x="114.3" y="608" text-anchor="end" font-size="33">10<tspan font-size="19" dy="-16">3</tspan></text><text x="114.3" y="494.1" text-anchor="end" font-size="33">10<tspan font-size="19" dy="-16">4</tspan></text><text x="114.3" y="380.2" text-anchor="end" font-size="33">10<tspan font-size="19" dy="-16">5</tspan></text><text x="114.3" y="266.3" text-anchor="end" font-size="33">10<tspan font-size="19" dy="-16">6</tspan></text><text x="114.3" y="152.4" text-anchor="end" font-size="33">10<tspan font-size="19" dy="-16">7</tspan></text><text x="114.3" y="38.5" text-anchor="end" font-size="33">10<tspan font-size="19" dy="-16">8</tspan></text></g>
<g font-family="&quot;Liberation Sans&quot;, sans-serif" fill="#000"><text x="632.9" y="728.7" text-anchor="end" font-size="33">10<tspan font-size="19" dy="-16">-2</tspan></text><text x="632.9" y="650.8" text-anchor="end" font-size="33">10<tspan font-size="19" dy="-16">-1</tspan></text><text x="632.9" y="572.9" text-anchor="end" font-size="33">10<tspan font-size="19" dy="-16">0</tspan></text><text x="632.9" y="495" text-anchor="end" font-size="33">10<tspan font-size="19" dy="-16">1</tspan></text><text x="632.9" y="417.1" text-anchor="end" font-size="33">10<tspan font-size="19" dy="-16">2</tspan></text><text x="632.9" y="339.2" text-anchor="end" font-size="33">10<tspan font-size="19" dy="-16">3</tspan></text><text x="632.9" y="261.3" text-anchor="end" font-size="33">10<tspan font-size="19" dy="-16">4</tspan></text><text x="632.9" y="183.4" text-anchor="end" font-size="33">10<tspan font-size="19" dy="-16">5</tspan></text><text x="632.9" y="105.5" text-anchor="end" font-size="33">10<tspan font-size="19" dy="-16">6</tspan></text></g>
<g font-family="&quot;Liberation Sans&quot;, sans-serif" fill="#000"><text x="129.8" y="754.8" text-anchor="middle" font-size="27">10<tspan font-size="15.5" dy="-14.6">1</tspan></text><text x="212.2" y="754.8" text-anchor="middle" font-size="27">10<tspan font-size="15.5" dy="-14.6">2</tspan></text><text x="294.6" y="754.8" text-anchor="middle" font-size="27">10<tspan font-size="15.5" dy="-14.6">3</tspan></text><text x="377" y="754.8" text-anchor="middle" font-size="27">10<tspan font-size="15.5" dy="-14.6">4</tspan></text><text x="459.4" y="754.8" text-anchor="middle" font-size="27">10<tspan font-size="15.5" dy="-14.6">5</tspan></text><text x="541.8" y="754.8" text-anchor="middle" font-size="27">10<tspan font-size="15.5" dy="-14.6">6</tspan></text></g>
<g font-family="&quot;Liberation Sans&quot;, sans-serif" fill="#000"><text x="648.4" y="754.8" text-anchor="middle" font-size="27">10<tspan font-size="15.5" dy="-14.6">1</tspan></text><text x="730.86" y="754.8" text-anchor="middle" font-size="27">10<tspan font-size="15.5" dy="-14.6">2</tspan></text><text x="813.32" y="754.8" text-anchor="middle" font-size="27">10<tspan font-size="15.5" dy="-14.6">3</tspan></text><text x="895.78" y="754.8" text-anchor="middle" font-size="27">10<tspan font-size="15.5" dy="-14.6">4</tspan></text><text x="978.24" y="754.8" text-anchor="middle" font-size="27">10<tspan font-size="15.5" dy="-14.6">5</tspan></text><text x="1060.7" y="754.8" text-anchor="middle" font-size="27">10<tspan font-size="15.5" dy="-14.6">6</tspan></text></g>
<text font-family="&quot;Liberation Sans&quot;, sans-serif" font-size="33.2" x="335.8" y="813.3" text-anchor="middle">Frequency (Hz)</text>
<text font-family="&quot;Liberation Sans&quot;, sans-serif" font-size="33.2" x="854.55" y="813" text-anchor="middle">Frequency (Hz)</text>
<text font-family="&quot;Liberation Sans&quot;, sans-serif" font-size="32.8" transform="translate(50.4 367.3) rotate(-90)" text-anchor="middle">Z', Ω m</text>
<text font-family="&quot;Liberation Sans&quot;, sans-serif" font-size="32.8" transform="translate(580.1 374.5) rotate(-90)" text-anchor="middle">Z'', Ω m</text>
<text font-family="&quot;Liberation Sans&quot;, sans-serif" font-size="28.5" transform="translate(188.5 107.7) scale(1.035 1)" text-anchor="start" >0.09 vol.%</text>
<text font-family="&quot;Liberation Sans&quot;, sans-serif" font-size="29.5" transform="translate(188.5 148.6) scale(1.015 1)" text-anchor="start" >MWCNT +</text>
<text font-family="&quot;Liberation Sans&quot;, sans-serif" font-size="32" transform="translate(328.8 62.1) scale(1.037 1)" text-anchor="start" >Ni@C (vol.%)</text>
<g><rect x="334.2" y="71.6" width="192.4" height="202" fill="#fff" stroke="#6e6e6e" stroke-width="1.6"/><text font-family="&quot;Liberation Sans&quot;, sans-serif" font-size="21" x="333.3" y="91.7" textLength="126.2" lengthAdjust="spacingAndGlyphs">Before/After</text><text font-family="&quot;Liberation Sans&quot;, sans-serif" font-size="21" x="333.3" y="120.3" textLength="105" lengthAdjust="spacingAndGlyphs">annealing</text><rect x="353.8" y="136.3" width="13.5" height="13.5" fill="#0000ff"/><circle cx="360.3" cy="172.3" r="7.7" fill="#00ff00"/><circle cx="433.5" cy="172.5" r="7" fill="#fff" stroke="#4ec94e" stroke-width="1.3"/><path d="M352.6 194.2L368.1 209.7M352.6 209.7L368.1 194.2" stroke="#55dddd" stroke-width="1.6" fill="none"/><path d="M428.5 201.7L439.5 201.7" stroke="#6464bc" stroke-width="1.14" fill="none"/><path d="M434 196.2L434 207.2" stroke="#7a7ac8" stroke-width="1.14" fill="none"/><path d="M428.5 196.2L439.5 207.2M428.5 207.2L439.5 196.2" stroke="#3e3e9c" stroke-width="1.2" fill="none"/><circle cx="434" cy="201.7" r="1.3" fill="#2a2ab8"/><path d="M354.6 222.2L370.8 231.3L354.6 240.4Z" fill="#ff00ff"/><path d="M428.9 222.2L444.2 231.3L428.9 240.4Z" fill="#fff" stroke="#c24ec2" stroke-width="1.3" stroke-linejoin="miter"/><rect x="353.6" y="253.6" width="13.4" height="13.4" fill="#ff0000"/><rect x="421.9" y="255.5" width="9.8" height="9.8" fill="#fff" stroke="#c04848" stroke-width="1.2"/><text font-family="&quot;Liberation Sans&quot;, sans-serif" font-size="23" fill="#262626" x="400.2" y="181.0">/</text><text font-family="&quot;Liberation Sans&quot;, sans-serif" font-size="23" fill="#262626" x="400.2" y="210.4">/</text><text font-family="&quot;Liberation Sans&quot;, sans-serif" font-size="23" fill="#262626" x="400.2" y="239.9">/</text><text font-family="&quot;Liberation Sans&quot;, sans-serif" font-size="23" fill="#262626" x="393.5" y="268.90000000000003">/</text><text font-family="&quot;Liberation Sans&quot;, sans-serif" font-size="21.5" x="393.6" y="150.4">0</text><text font-family="&quot;Liberation Sans&quot;, sans-serif" font-size="21.5" x="466.2" y="180.3" textLength="60.5" lengthAdjust="spacingAndGlyphs">0.025</text><text font-family="&quot;Liberation Sans&quot;, sans-serif" font-size="21.5" x="466.2" y="208.9" textLength="33.5" lengthAdjust="spacingAndGlyphs">0.2</text><text font-family="&quot;Liberation Sans&quot;, sans-serif" font-size="21.5" x="466.2" y="238.9" textLength="33.5" lengthAdjust="spacingAndGlyphs">0.6</text><text font-family="&quot;Liberation Sans&quot;, sans-serif" font-size="21.5" x="460" y="267">1</text></g>
</svg>
</body></html>
